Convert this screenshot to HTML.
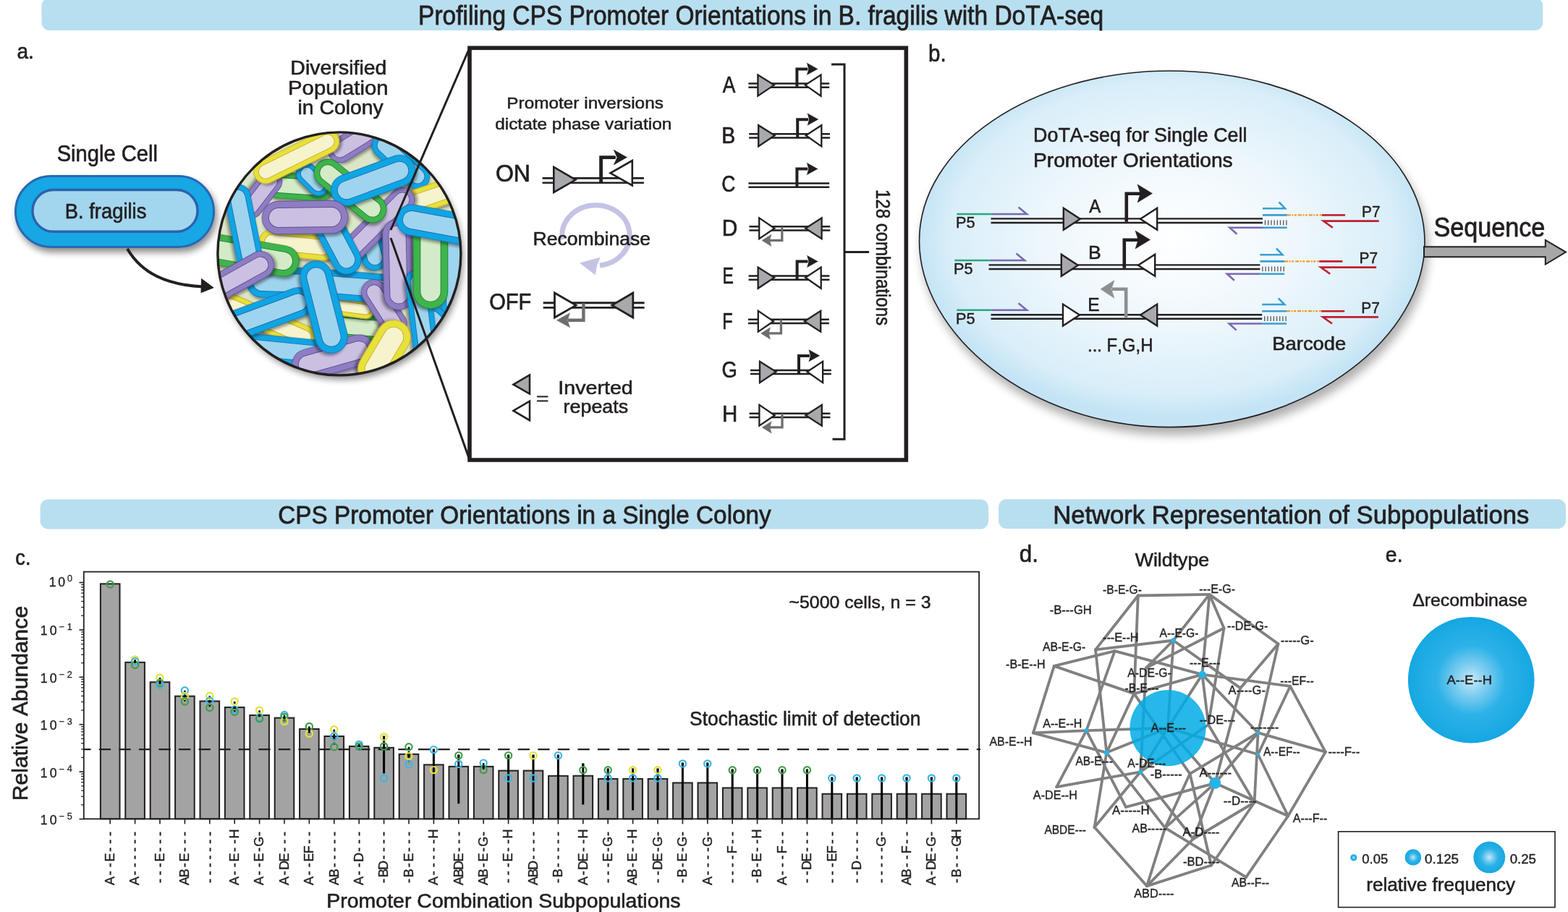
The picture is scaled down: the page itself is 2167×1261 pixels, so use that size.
<!DOCTYPE html>
<html><head><meta charset="utf-8"><title>Profiling CPS Promoter Orientations in B. fragilis with DoTA-seq</title>
<style>
html,body{margin:0;padding:0;background:#fff;}
body{width:2167px;height:1261px;overflow:hidden;}
svg{display:block;font-family:'Liberation Sans', Arial, sans-serif;}
text{fill:#231f20;stroke:#231f20;font-kerning:none;}
</style></head><body>
<svg width="2167" height="1261" viewBox="0 0 2167 1261">
<defs>
<filter id="shadow" x="-20%" y="-20%" width="150%" height="160%">
  <feGaussianBlur in="SourceAlpha" stdDeviation="5"/>
  <feOffset dx="3" dy="6" result="ob"/>
  <feComponentTransfer><feFuncA type="linear" slope="0.45"/></feComponentTransfer>
  <feMerge><feMergeNode/><feMergeNode in="SourceGraphic"/></feMerge>
</filter>
<filter id="shadowE" x="-10%" y="-10%" width="125%" height="130%">
  <feGaussianBlur in="SourceAlpha" stdDeviation="7"/>
  <feOffset dx="4" dy="10" result="ob"/>
  <feComponentTransfer><feFuncA type="linear" slope="0.32"/></feComponentTransfer>
  <feMerge><feMergeNode/><feMergeNode in="SourceGraphic"/></feMerge>
</filter>
<filter id="shadowS" x="-30%" y="-30%" width="170%" height="170%">
  <feGaussianBlur in="SourceAlpha" stdDeviation="2.2"/>
  <feOffset dx="1.5" dy="2.5" result="ob"/>
  <feComponentTransfer><feFuncA type="linear" slope="0.45"/></feComponentTransfer>
  <feMerge><feMergeNode/><feMergeNode in="SourceGraphic"/></feMerge>
</filter>
<radialGradient id="gEll" cx="0.5" cy="0.47" r="0.5">
  <stop offset="0" stop-color="#ffffff"/>
  <stop offset="0.5" stop-color="#eef7fc"/>
  <stop offset="0.88" stop-color="#d9eef9"/>
  <stop offset="1" stop-color="#c4e4f5"/>
</radialGradient>
<radialGradient id="gBall" cx="0.5" cy="0.5" r="0.5">
  <stop offset="0" stop-color="#c9eaf9"/>
  <stop offset="0.22" stop-color="#86d0f1"/>
  <stop offset="0.55" stop-color="#2db2e7"/>
  <stop offset="1" stop-color="#15a7e2"/>
</radialGradient>
<clipPath id="colClip"><circle cx="468.9" cy="350.9" r="167"/></clipPath>
</defs>
<rect x="57.5" y="-3" width="2074.8" height="44.9" rx="11" fill="#b8dff0"/>
<text x="578.05" y="33.7" font-size="36.34" stroke-width="0.8" textLength="947.09" lengthAdjust="spacingAndGlyphs">Profiling CPS Promoter Orientations in B. fragilis with DoTA-seq</text>
<rect x="55.6" y="690.6" width="1310.4" height="40.8" rx="11" fill="#b8dff0"/>
<rect x="1380" y="690.2" width="784" height="40.7" rx="11" fill="#b8dff0"/>
<text x="384.31" y="723.6" font-size="35.17" stroke-width="0.77" textLength="681.46" lengthAdjust="spacingAndGlyphs">CPS Promoter Orientations in a Single Colony</text>
<text x="1455.16" y="724" font-size="34.88" stroke-width="0.77" textLength="658.09" lengthAdjust="spacingAndGlyphs">Network Representation of Subpopulations</text>
<text x="23.51" y="81" font-size="29.55" stroke-width="0.65" textLength="23.35" lengthAdjust="spacingAndGlyphs">a.</text>
<text x="78.68" y="223.4" font-size="31.25" stroke-width="0.69" textLength="139.27" lengthAdjust="spacingAndGlyphs">Single Cell</text>
<g filter="url(#shadow)">
<rect x="21.5" y="243.5" width="274" height="98" rx="49" fill="#12a7e4" stroke="#2a68b2" stroke-width="3"/>
</g>
<rect x="45" y="262.5" width="228" height="57.8" rx="28.9" fill="#a2d6ee" stroke="#2b62ad" stroke-width="3.4"/>
<text x="89.75" y="301.8" font-size="29.07" stroke-width="0.64" textLength="112.64" lengthAdjust="spacingAndGlyphs">B. fragilis</text>
<path d="M176,344 C196,378 230,394 281,396.5" fill="none" stroke="#231f20" stroke-width="4"/>
<polygon points="278.5,385.5 295,397.8 278,404.5" fill="#231f20" stroke="#231f20" stroke-width="1" />
<text x="401.36" y="102.8" font-size="27.03" stroke-width="0.59" textLength="133.08" lengthAdjust="spacingAndGlyphs">Diversified</text>
<text x="398.1" y="130.8" font-size="27.03" stroke-width="0.59" textLength="138.4" lengthAdjust="spacingAndGlyphs">Population</text>
<text x="411.5" y="158.3" font-size="27.03" stroke-width="0.59" textLength="118.25" lengthAdjust="spacingAndGlyphs">in Colony</text>
<g filter="url(#shadow)"><circle cx="468.9" cy="350.9" r="168" fill="#e8eed8"/></g>
<g clip-path="url(#colClip)">
<rect x="300" y="182" width="340" height="340" fill="#dbe6c6"/>
<g transform="translate(395,391) rotate(1.74)"><g filter="url(#shadowS)"><rect x="-54.62" y="-21.6" width="109.23" height="43.2" rx="21.6" fill="#1b6fb3"/></g><rect x="-53.72" y="-20.7" width="107.43" height="41.4" rx="20.7" fill="#0fa5e3"/><rect x="-45.98" y="-12.96" width="91.95" height="25.92" rx="12.96" fill="#1b6fb3"/><rect x="-45.08" y="-12.06" width="90.15" height="24.12" rx="12.06" fill="#9fd4ee"/></g>
<g transform="translate(369.5,444) rotate(23.13)"><g filter="url(#shadowS)"><rect x="-72.2" y="-16.2" width="144.4" height="32.4" rx="16.2" fill="#d6a634"/></g><rect x="-71.3" y="-15.3" width="142.6" height="30.6" rx="15.3" fill="#e5e238"/><rect x="-65.72" y="-9.72" width="131.44" height="19.44" rx="9.72" fill="#d6a634"/><rect x="-64.82" y="-8.82" width="129.64" height="17.64" rx="8.82" fill="#f5f4cc"/></g>
<g transform="translate(393,485) rotate(5.71)"><g filter="url(#shadowS)"><rect x="-69.69" y="-19.44" width="139.38" height="38.88" rx="19.44" fill="#1b6fb3"/></g><rect x="-68.79" y="-18.54" width="137.58" height="37.08" rx="18.54" fill="#0fa5e3"/><rect x="-61.91" y="-11.66" width="123.83" height="23.33" rx="11.66" fill="#1b6fb3"/><rect x="-61.01" y="-10.76" width="122.03" height="21.53" rx="10.76" fill="#9fd4ee"/></g>
<g transform="translate(485,512.5) rotate(12.09)"><g filter="url(#shadowS)"><rect x="-54.15" y="-18.36" width="108.31" height="36.72" rx="18.36" fill="#5e4f9a"/></g><rect x="-53.25" y="-17.46" width="106.51" height="34.92" rx="17.46" fill="#8f7dc2"/><rect x="-46.81" y="-11.02" width="93.62" height="22.03" rx="11.02" fill="#5e4f9a"/><rect x="-45.91" y="-10.12" width="91.82" height="20.23" rx="10.12" fill="#cbc0e1"/></g>
<g transform="translate(499,452.5) rotate(4.93)"><g filter="url(#shadowS)"><rect x="-48.55" y="-19.44" width="97.1" height="38.88" rx="19.44" fill="#1f7d3a"/></g><rect x="-47.65" y="-18.54" width="95.3" height="37.08" rx="18.54" fill="#3fb44b"/><rect x="-40.77" y="-11.66" width="81.54" height="23.33" rx="11.66" fill="#1f7d3a"/><rect x="-39.87" y="-10.76" width="79.74" height="21.53" rx="10.76" fill="#d3ecc7"/></g>
<g transform="translate(486.5,425.5) rotate(7.7)"><g filter="url(#shadowS)"><rect x="-31.63" y="-12.96" width="63.26" height="25.92" rx="12.96" fill="#d6a634"/></g><rect x="-30.73" y="-12.06" width="61.46" height="24.12" rx="12.06" fill="#e5e238"/><rect x="-26.13" y="-7.46" width="52.26" height="14.92" rx="7.46" fill="#d6a634"/><rect x="-25.23" y="-6.56" width="50.46" height="13.12" rx="6.56" fill="#f5f4cc"/></g>
<g transform="translate(491,195) rotate(-31.76)"><g filter="url(#shadowS)"><rect x="-41.98" y="-17.28" width="83.96" height="34.56" rx="17.28" fill="#5e4f9a"/></g><rect x="-41.08" y="-16.38" width="82.16" height="32.76" rx="16.38" fill="#8f7dc2"/><rect x="-35.07" y="-10.37" width="70.13" height="20.74" rx="10.37" fill="#5e4f9a"/><rect x="-34.17" y="-9.47" width="68.33" height="18.94" rx="9.47" fill="#cbc0e1"/></g>
<g transform="translate(554,222.5) rotate(43.07)"><g filter="url(#shadowS)"><rect x="-48.76" y="-17.28" width="97.53" height="34.56" rx="17.28" fill="#1b6fb3"/></g><rect x="-47.86" y="-16.38" width="95.73" height="32.76" rx="16.38" fill="#0fa5e3"/><rect x="-41.85" y="-10.37" width="83.7" height="20.74" rx="10.37" fill="#1b6fb3"/><rect x="-40.95" y="-9.47" width="81.9" height="18.94" rx="9.47" fill="#9fd4ee"/></g>
<g transform="translate(598.5,271) rotate(-18.76)"><g filter="url(#shadowS)"><rect x="-45.27" y="-17.28" width="90.53" height="34.56" rx="17.28" fill="#d6a634"/></g><rect x="-44.37" y="-16.38" width="88.73" height="32.76" rx="16.38" fill="#e5e238"/><rect x="-38.35" y="-10.37" width="76.71" height="20.74" rx="10.37" fill="#d6a634"/><rect x="-37.45" y="-9.47" width="74.91" height="18.94" rx="9.47" fill="#f5f4cc"/></g>
<g transform="translate(413.5,258) rotate(4.01)"><g filter="url(#shadowS)"><rect x="-46.93" y="-18.36" width="93.86" height="36.72" rx="18.36" fill="#1f7d3a"/></g><rect x="-46.03" y="-17.46" width="92.06" height="34.92" rx="17.46" fill="#3fb44b"/><rect x="-39.59" y="-11.02" width="79.17" height="22.03" rx="11.02" fill="#1f7d3a"/><rect x="-38.69" y="-10.12" width="77.37" height="20.23" rx="10.12" fill="#d3ecc7"/></g>
<g transform="translate(411,338.5) rotate(5.71)"><g filter="url(#shadowS)"><rect x="-53.53" y="-18.36" width="107.07" height="36.72" rx="18.36" fill="#d6a634"/></g><rect x="-52.63" y="-17.46" width="105.27" height="34.92" rx="17.46" fill="#e5e238"/><rect x="-46.19" y="-11.02" width="92.38" height="22.03" rx="11.02" fill="#d6a634"/><rect x="-45.29" y="-10.12" width="90.58" height="20.23" rx="10.12" fill="#f5f4cc"/></g>
<g transform="translate(482.5,395.5) rotate(4.71)"><g filter="url(#shadowS)"><rect x="-63.16" y="-20.52" width="126.33" height="41.04" rx="20.52" fill="#1b6fb3"/></g><rect x="-62.26" y="-19.62" width="124.53" height="39.24" rx="19.62" fill="#0fa5e3"/><rect x="-54.96" y="-12.31" width="109.91" height="24.62" rx="12.31" fill="#1b6fb3"/><rect x="-54.06" y="-11.41" width="108.11" height="22.82" rx="11.41" fill="#9fd4ee"/></g>
<g transform="translate(515,345.5) rotate(74.05)"><g filter="url(#shadowS)"><rect x="-29.28" y="-18.36" width="58.56" height="36.72" rx="18.36" fill="#1b6fb3"/></g><rect x="-28.38" y="-17.46" width="56.76" height="34.92" rx="17.46" fill="#0fa5e3"/><rect x="-21.94" y="-11.02" width="43.87" height="22.03" rx="11.02" fill="#1b6fb3"/><rect x="-21.04" y="-10.12" width="42.07" height="20.23" rx="10.12" fill="#9fd4ee"/></g>
<g transform="translate(521.75,310.25) rotate(-45)"><g filter="url(#shadowS)"><rect x="-65.72" y="-17.28" width="131.43" height="34.56" rx="17.28" fill="#5e4f9a"/></g><rect x="-64.82" y="-16.38" width="129.63" height="32.76" rx="16.38" fill="#8f7dc2"/><rect x="-58.8" y="-10.37" width="117.61" height="20.74" rx="10.37" fill="#5e4f9a"/><rect x="-57.9" y="-9.47" width="115.81" height="18.94" rx="9.47" fill="#cbc0e1"/></g>
<g transform="translate(432,248) rotate(45)"><g filter="url(#shadowS)"><rect x="-26.43" y="-15.12" width="52.87" height="30.24" rx="15.12" fill="#1b6fb3"/></g><rect x="-25.53" y="-14.22" width="51.07" height="28.44" rx="14.22" fill="#0fa5e3"/><rect x="-20.39" y="-9.07" width="40.77" height="18.14" rx="9.07" fill="#1b6fb3"/><rect x="-19.49" y="-8.17" width="38.97" height="16.34" rx="8.17" fill="#9fd4ee"/></g>
<g transform="translate(484,264) rotate(38.88)"><g filter="url(#shadowS)"><rect x="-59.26" y="-19.44" width="118.53" height="38.88" rx="19.44" fill="#1f7d3a"/></g><rect x="-58.36" y="-18.54" width="116.73" height="37.08" rx="18.54" fill="#3fb44b"/><rect x="-51.49" y="-11.66" width="102.98" height="23.33" rx="11.66" fill="#1f7d3a"/><rect x="-50.59" y="-10.76" width="101.18" height="21.53" rx="10.76" fill="#d3ecc7"/></g>
<g transform="translate(360.5,268.5) rotate(127.65)"><g filter="url(#shadowS)"><rect x="-38.3" y="-16.2" width="76.6" height="32.4" rx="16.2" fill="#5e4f9a"/></g><rect x="-37.4" y="-15.3" width="74.8" height="30.6" rx="15.3" fill="#8f7dc2"/><rect x="-31.82" y="-9.72" width="63.64" height="19.44" rx="9.72" fill="#5e4f9a"/><rect x="-30.92" y="-8.82" width="61.84" height="17.64" rx="8.82" fill="#cbc0e1"/></g>
<g transform="translate(531,426) rotate(57.53)"><g filter="url(#shadowS)"><rect x="-43.9" y="-17.82" width="87.79" height="35.64" rx="17.82" fill="#5e4f9a"/></g><rect x="-43" y="-16.92" width="85.99" height="33.84" rx="16.92" fill="#8f7dc2"/><rect x="-36.77" y="-10.69" width="73.54" height="21.38" rx="10.69" fill="#5e4f9a"/><rect x="-35.87" y="-9.79" width="71.74" height="19.58" rx="9.79" fill="#cbc0e1"/></g>
<g transform="translate(346,353) rotate(9.87)"><g filter="url(#shadowS)"><rect x="-68.29" y="-21.6" width="136.58" height="43.2" rx="21.6" fill="#1f7d3a"/></g><rect x="-67.39" y="-20.7" width="134.78" height="41.4" rx="20.7" fill="#3fb44b"/><rect x="-59.65" y="-12.96" width="119.3" height="25.92" rx="12.96" fill="#1f7d3a"/><rect x="-58.75" y="-12.06" width="117.5" height="24.12" rx="12.06" fill="#d3ecc7"/></g>
<g transform="translate(337.75,319.2) rotate(78.73)"><g filter="url(#shadowS)"><rect x="-65.67" y="-18.36" width="131.35" height="36.72" rx="18.36" fill="#1b6fb3"/></g><rect x="-64.77" y="-17.46" width="129.55" height="34.92" rx="17.46" fill="#0fa5e3"/><rect x="-58.33" y="-11.02" width="116.66" height="22.03" rx="11.02" fill="#1b6fb3"/><rect x="-57.43" y="-10.12" width="114.86" height="20.23" rx="10.12" fill="#9fd4ee"/></g>
<g transform="translate(327.5,384) rotate(-28.98)"><g filter="url(#shadowS)"><rect x="-56.05" y="-18.9" width="112.1" height="37.8" rx="18.9" fill="#5e4f9a"/></g><rect x="-55.15" y="-18" width="110.3" height="36" rx="18" fill="#8f7dc2"/><rect x="-48.49" y="-11.34" width="96.98" height="22.68" rx="11.34" fill="#5e4f9a"/><rect x="-47.59" y="-10.44" width="95.18" height="20.88" rx="10.44" fill="#cbc0e1"/></g>
<g transform="translate(628,375) rotate(90)"><g filter="url(#shadowS)"><rect x="-64.44" y="-19.44" width="128.88" height="38.88" rx="19.44" fill="#1b6fb3"/></g><rect x="-63.54" y="-18.54" width="127.08" height="37.08" rx="18.54" fill="#0fa5e3"/><rect x="-56.66" y="-11.66" width="113.33" height="23.33" rx="11.66" fill="#1b6fb3"/><rect x="-55.76" y="-10.76" width="111.53" height="21.53" rx="10.76" fill="#9fd4ee"/></g>
<g transform="translate(608.5,451) rotate(43.73)"><g filter="url(#shadowS)"><rect x="-34.27" y="-18.36" width="68.55" height="36.72" rx="18.36" fill="#1b6fb3"/></g><rect x="-33.37" y="-17.46" width="66.75" height="34.92" rx="17.46" fill="#0fa5e3"/><rect x="-26.93" y="-11.02" width="53.86" height="22.03" rx="11.02" fill="#1b6fb3"/><rect x="-26.03" y="-10.12" width="52.06" height="20.23" rx="10.12" fill="#9fd4ee"/></g>
<g transform="translate(465.5,333.5) rotate(62.1)"><g filter="url(#shadowS)"><rect x="-49.37" y="-20.52" width="98.75" height="41.04" rx="20.52" fill="#1b6fb3"/></g><rect x="-48.47" y="-19.62" width="96.95" height="39.24" rx="19.62" fill="#0fa5e3"/><rect x="-41.17" y="-12.31" width="82.33" height="24.62" rx="12.31" fill="#1b6fb3"/><rect x="-40.27" y="-11.41" width="80.53" height="22.82" rx="11.41" fill="#9fd4ee"/></g>
<g transform="translate(550,366) rotate(88.64)"><g filter="url(#shadowS)"><rect x="-62.8" y="-20.79" width="125.6" height="41.58" rx="20.79" fill="#5e4f9a"/></g><rect x="-61.9" y="-19.89" width="123.8" height="39.78" rx="19.89" fill="#8f7dc2"/><rect x="-54.49" y="-12.47" width="108.97" height="24.95" rx="12.47" fill="#5e4f9a"/><rect x="-53.59" y="-11.57" width="107.17" height="23.15" rx="11.57" fill="#cbc0e1"/></g>
<g transform="translate(582.5,434) rotate(82.87)"><g filter="url(#shadowS)"><rect x="-61.62" y="-17.28" width="123.24" height="34.56" rx="17.28" fill="#1b6fb3"/></g><rect x="-60.72" y="-16.38" width="121.44" height="32.76" rx="16.38" fill="#0fa5e3"/><rect x="-54.71" y="-10.37" width="109.42" height="20.74" rx="10.37" fill="#1b6fb3"/><rect x="-53.81" y="-9.47" width="107.62" height="18.94" rx="9.47" fill="#9fd4ee"/></g>
<g transform="translate(595,366.5) rotate(90)"><g filter="url(#shadowS)"><rect x="-60.8" y="-24.3" width="121.6" height="48.6" rx="24.3" fill="#1f7d3a"/></g><rect x="-59.9" y="-23.4" width="119.8" height="46.8" rx="23.4" fill="#3fb44b"/><rect x="-51.08" y="-14.58" width="102.16" height="29.16" rx="14.58" fill="#1f7d3a"/><rect x="-50.18" y="-13.68" width="100.36" height="27.36" rx="13.68" fill="#d3ecc7"/></g>
<g transform="translate(460.5,494) rotate(-15.73)"><g filter="url(#shadowS)"><rect x="-58.48" y="-21.6" width="116.96" height="43.2" rx="21.6" fill="#5e4f9a"/></g><rect x="-57.58" y="-20.7" width="115.16" height="41.4" rx="20.7" fill="#8f7dc2"/><rect x="-49.84" y="-12.96" width="99.68" height="25.92" rx="12.96" fill="#5e4f9a"/><rect x="-48.94" y="-12.06" width="97.88" height="24.12" rx="12.06" fill="#cbc0e1"/></g>
<g transform="translate(531,488) rotate(120.58)"><g filter="url(#shadowS)"><rect x="-49.31" y="-23.76" width="98.63" height="47.52" rx="23.76" fill="#d6a634"/></g><rect x="-48.41" y="-22.86" width="96.83" height="45.72" rx="22.86" fill="#e5e238"/><rect x="-39.81" y="-14.26" width="79.62" height="28.51" rx="14.26" fill="#d6a634"/><rect x="-38.91" y="-13.36" width="77.82" height="26.71" rx="13.36" fill="#f5f4cc"/></g>
<g transform="translate(409.75,216.5) rotate(-26.16)"><g filter="url(#shadowS)"><rect x="-64.37" y="-16.74" width="128.74" height="33.48" rx="16.74" fill="#d6a634"/></g><rect x="-63.47" y="-15.84" width="126.94" height="31.68" rx="15.84" fill="#e5e238"/><rect x="-57.67" y="-10.04" width="115.35" height="20.09" rx="10.04" fill="#d6a634"/><rect x="-56.77" y="-9.14" width="113.55" height="18.29" rx="9.14" fill="#f5f4cc"/></g>
<g transform="translate(515.5,249.5) rotate(-20.3)"><g filter="url(#shadowS)"><rect x="-60.89" y="-21.98" width="121.79" height="43.96" rx="21.98" fill="#1b6fb3"/></g><rect x="-59.99" y="-21.08" width="119.99" height="42.16" rx="21.08" fill="#0fa5e3"/><rect x="-52.1" y="-13.19" width="104.21" height="26.37" rx="13.19" fill="#1b6fb3"/><rect x="-51.2" y="-12.29" width="102.41" height="24.57" rx="12.29" fill="#9fd4ee"/></g>
<g transform="translate(421.5,300.5) rotate(-0.78)"><g filter="url(#shadowS)"><rect x="-59.72" y="-23.22" width="119.45" height="46.44" rx="23.22" fill="#5e4f9a"/></g><rect x="-58.82" y="-22.32" width="117.65" height="44.64" rx="22.32" fill="#8f7dc2"/><rect x="-50.44" y="-13.93" width="100.87" height="27.86" rx="13.93" fill="#5e4f9a"/><rect x="-49.54" y="-13.03" width="99.07" height="26.06" rx="13.03" fill="#cbc0e1"/></g>
<g transform="translate(604.5,310.5) rotate(10.38)"><g filter="url(#shadowS)"><rect x="-57.69" y="-21.6" width="115.38" height="43.2" rx="21.6" fill="#1b6fb3"/></g><rect x="-56.79" y="-20.7" width="113.58" height="41.4" rx="20.7" fill="#0fa5e3"/><rect x="-49.05" y="-12.96" width="98.1" height="25.92" rx="12.96" fill="#1b6fb3"/><rect x="-48.15" y="-12.06" width="96.3" height="24.12" rx="12.06" fill="#9fd4ee"/></g>
<g transform="translate(362,436.5) rotate(-20.3)"><g filter="url(#shadowS)"><rect x="-74.1" y="-20.79" width="148.21" height="41.58" rx="20.79" fill="#1b6fb3"/></g><rect x="-73.2" y="-19.89" width="146.41" height="39.78" rx="19.89" fill="#0fa5e3"/><rect x="-65.79" y="-12.47" width="131.57" height="24.95" rx="12.47" fill="#1b6fb3"/><rect x="-64.89" y="-11.57" width="129.77" height="23.15" rx="11.57" fill="#9fd4ee"/></g>
<g transform="translate(447.5,424.5) rotate(75.8)"><g filter="url(#shadowS)"><rect x="-65.49" y="-22.68" width="130.98" height="45.36" rx="22.68" fill="#1b6fb3"/></g><rect x="-64.59" y="-21.78" width="129.18" height="43.56" rx="21.78" fill="#0fa5e3"/><rect x="-56.42" y="-13.61" width="112.83" height="27.22" rx="13.61" fill="#1b6fb3"/><rect x="-55.52" y="-12.71" width="111.03" height="25.42" rx="12.71" fill="#9fd4ee"/></g>
</g>
<circle cx="468.9" cy="350.9" r="168" fill="none" stroke="#231f20" stroke-width="3.4"/>
<line x1="540" y1="318" x2="649" y2="66" stroke="#231f20" stroke-width="3" />
<line x1="540" y1="329" x2="649" y2="636" stroke="#231f20" stroke-width="3" />
<rect x="649" y="66.3" width="603.3" height="569.7" fill="#fff" stroke="#231f20" stroke-width="5.6"/>
<text x="700.3" y="150.2" font-size="22.97" stroke-width="0.51" textLength="216.58" lengthAdjust="spacingAndGlyphs">Promoter inversions</text>
<text x="684.18" y="178.7" font-size="22.97" stroke-width="0.51" textLength="244.11" lengthAdjust="spacingAndGlyphs">dictate phase variation</text>
<text x="684.88" y="251.3" font-size="32.85" stroke-width="0.72" textLength="48.14" lengthAdjust="spacingAndGlyphs">ON</text>
<text x="676.22" y="427.6" font-size="31.54" stroke-width="0.69" textLength="58.14" lengthAdjust="spacingAndGlyphs">OFF</text>
<line x1="749.6" y1="246.4" x2="889.9" y2="246.4" stroke="#231f20" stroke-width="2.6" />
<line x1="749.6" y1="252.8" x2="889.9" y2="252.8" stroke="#231f20" stroke-width="2.6" />
<polygon points="765.3,231 765.3,266 795.5,248.6" fill="#a7a9ac" stroke="#231f20" stroke-width="2.6" />
<polygon points="873.8,222 873.8,256.5 843.5,239.3" fill="#fff" stroke="#231f20" stroke-width="2.6" />
<polyline points="830.6,252.2 830.6,217.7 852,217.7" fill="none" stroke="#231f20" stroke-width="4.8" stroke-linejoin="miter"/>
<polygon points="846.3,205.3 868.1,217.5 846.3,230.1 852,217.7" fill="#231f20" stroke="#fff" stroke-width="1.2" />
<path d="M777.2,331 A46.7,41.8 0 1 1 829,367" fill="none" stroke="#c4c3e6" stroke-width="7"/>
<polygon points="801.9,363.8 829,356.4 824.6,366.5 822.4,379.5" fill="#c4c3e6" stroke="#c4c3e6" stroke-width="1" />
<text x="736.52" y="338.6" font-size="26.6" stroke-width="0.59" textLength="162.66" lengthAdjust="spacingAndGlyphs">Recombinase</text>
<line x1="750.7" y1="418.75" x2="890.6" y2="418.75" stroke="#231f20" stroke-width="2.8" />
<line x1="750.7" y1="425.45" x2="890.6" y2="425.45" stroke="#231f20" stroke-width="2.8" />
<polygon points="766.5,405 766.5,439 796,422.1" fill="#fff" stroke="#231f20" stroke-width="2.8" />
<polygon points="874.8,405 874.8,439 845.8,422.1" fill="#a7a9ac" stroke="#231f20" stroke-width="2.8" />
<polyline points="806.4,419.2 806.4,442.8 785,442.8" fill="none" stroke="#6d6e71" stroke-width="4.4" />
<polygon points="769.5,442.8 787.6,432.8 784.3,442.8 787.6,452.8" fill="#6d6e71" stroke="#6d6e71" stroke-width="0.5" />
<polygon points="709.5,531.7 732,518.5 732,544.5" fill="#a7a9ac" stroke="#231f20" stroke-width="2.5" />
<polygon points="709.5,567.9 732,554.6 732,581.2" fill="#fff" stroke="#231f20" stroke-width="2.5" />
<line x1="742" y1="548.4" x2="757.4" y2="548.4" stroke="#231f20" stroke-width="2" />
<line x1="742" y1="554.4" x2="757.4" y2="554.4" stroke="#231f20" stroke-width="2" />
<text x="771.36" y="544.8" font-size="25.29" stroke-width="0.56" textLength="103.38" lengthAdjust="spacingAndGlyphs">Inverted</text>
<text x="778.62" y="570.6" font-size="25.29" stroke-width="0.56" textLength="89.55" lengthAdjust="spacingAndGlyphs">repeats</text>
<text x="998.65" y="128.4" font-size="31.1" stroke-width="0.68" textLength="17.6" lengthAdjust="spacingAndGlyphs">A</text>
<line x1="1034.4" y1="115.5" x2="1146.2" y2="115.5" stroke="#231f20" stroke-width="2.5" />
<line x1="1034.4" y1="120.7" x2="1146.2" y2="120.7" stroke="#231f20" stroke-width="2.5" />
<polygon points="1047.4,103.5 1047.4,132.7 1069.9,117.6" fill="#a7a9ac" stroke="#231f20" stroke-width="2.3" />
<polygon points="1134.5,103.5 1134.5,132.7 1112.9,117.6" fill="#fff" stroke="#231f20" stroke-width="2.3" />
<polyline points="1101.4,120.5 1101.4,95.5 1117.4,95.5" fill="none" stroke="#231f20" stroke-width="4" />
<polygon points="1114.4,86.1 1131.1,95.4 1114.4,104.6 1116.9,95.4" fill="#231f20" stroke="#fff" stroke-width="0.8" />
<text x="997.17" y="198.1" font-size="31.1" stroke-width="0.68" textLength="18.92" lengthAdjust="spacingAndGlyphs">B</text>
<line x1="1035.2" y1="185.2" x2="1147" y2="185.2" stroke="#231f20" stroke-width="2.5" />
<line x1="1035.2" y1="190.4" x2="1147" y2="190.4" stroke="#231f20" stroke-width="2.5" />
<polygon points="1048.2,173.2 1048.2,202.4 1070.7,187.3" fill="#a7a9ac" stroke="#231f20" stroke-width="2.3" />
<polygon points="1135.3,173.2 1135.3,202.4 1113.7,187.3" fill="#fff" stroke="#231f20" stroke-width="2.3" />
<polyline points="1102.2,190.2 1102.2,165.2 1118.2,165.2" fill="none" stroke="#231f20" stroke-width="4" />
<polygon points="1115.2,155.8 1131.9,165.1 1115.2,174.3 1117.7,165.1" fill="#231f20" stroke="#fff" stroke-width="0.8" />
<text x="997.36" y="264.7" font-size="31.1" stroke-width="0.68" textLength="19.04" lengthAdjust="spacingAndGlyphs">C</text>
<line x1="1034.4" y1="253.6" x2="1146.2" y2="253.6" stroke="#231f20" stroke-width="2.5" />
<line x1="1034.4" y1="258.8" x2="1146.2" y2="258.8" stroke="#231f20" stroke-width="2.5" />
<polyline points="1101.4,258.6 1101.4,233.6 1117.4,233.6" fill="none" stroke="#231f20" stroke-width="4" />
<polygon points="1114.4,224.2 1131.1,233.5 1114.4,242.7 1116.9,233.5" fill="#231f20" stroke="#fff" stroke-width="0.8" />
<text x="997.85" y="325.8" font-size="31.1" stroke-width="0.68" textLength="21.58" lengthAdjust="spacingAndGlyphs">D</text>
<line x1="1035.4" y1="313.2" x2="1147.2" y2="313.2" stroke="#231f20" stroke-width="2.5" />
<line x1="1035.4" y1="318.4" x2="1147.2" y2="318.4" stroke="#231f20" stroke-width="2.5" />
<polygon points="1049.2,301.4 1049.2,330.2 1070.4,315.8" fill="#fff" stroke="#231f20" stroke-width="2.3" />
<polygon points="1135.6,301.4 1135.6,330.2 1113.2,315.8" fill="#a7a9ac" stroke="#231f20" stroke-width="2.3" />
<polyline points="1080.8,313.4 1080.8,332.3 1063.4,332.3" fill="none" stroke="#6d6e71" stroke-width="3.3" />
<polygon points="1053,332.4 1066,324.2 1063.7,332.4 1066,340.6" fill="#6d6e71" stroke="#6d6e71" stroke-width="0.5" />
<text x="998.41" y="392" font-size="31.1" stroke-width="0.68" textLength="15.38" lengthAdjust="spacingAndGlyphs">E</text>
<line x1="1034.6" y1="381.6" x2="1146.4" y2="381.6" stroke="#231f20" stroke-width="2.5" />
<line x1="1034.6" y1="386.8" x2="1146.4" y2="386.8" stroke="#231f20" stroke-width="2.5" />
<polygon points="1047.6,369.6 1047.6,398.8 1070.1,383.7" fill="#a7a9ac" stroke="#231f20" stroke-width="2.3" />
<polygon points="1134.7,369.6 1134.7,398.8 1113.1,383.7" fill="#fff" stroke="#231f20" stroke-width="2.3" />
<polyline points="1101.6,386.6 1101.6,361.6 1117.6,361.6" fill="none" stroke="#231f20" stroke-width="4" />
<polygon points="1114.6,352.2 1131.3,361.5 1114.6,370.7 1117.1,361.5" fill="#231f20" stroke="#fff" stroke-width="0.8" />
<text x="998.37" y="455.1" font-size="31.1" stroke-width="0.68" textLength="14.37" lengthAdjust="spacingAndGlyphs">F</text>
<line x1="1034" y1="441.7" x2="1145.8" y2="441.7" stroke="#231f20" stroke-width="2.5" />
<line x1="1034" y1="446.9" x2="1145.8" y2="446.9" stroke="#231f20" stroke-width="2.5" />
<polygon points="1047.8,429.9 1047.8,458.7 1069,444.3" fill="#fff" stroke="#231f20" stroke-width="2.3" />
<polygon points="1134.2,429.9 1134.2,458.7 1111.8,444.3" fill="#a7a9ac" stroke="#231f20" stroke-width="2.3" />
<polyline points="1079.4,441.9 1079.4,460.8 1062,460.8" fill="none" stroke="#6d6e71" stroke-width="3.3" />
<polygon points="1051.6,460.9 1064.6,452.7 1062.3,460.9 1064.6,469.1" fill="#6d6e71" stroke="#6d6e71" stroke-width="0.5" />
<text x="997.52" y="521.5" font-size="31.1" stroke-width="0.68" textLength="21.33" lengthAdjust="spacingAndGlyphs">G</text>
<line x1="1037" y1="511.9" x2="1148.8" y2="511.9" stroke="#231f20" stroke-width="2.5" />
<line x1="1037" y1="517.1" x2="1148.8" y2="517.1" stroke="#231f20" stroke-width="2.5" />
<polygon points="1050,499.9 1050,529.1 1072.5,514" fill="#a7a9ac" stroke="#231f20" stroke-width="2.3" />
<polygon points="1137.1,499.9 1137.1,529.1 1115.5,514" fill="#fff" stroke="#231f20" stroke-width="2.3" />
<polyline points="1104,516.9 1104,491.9 1120,491.9" fill="none" stroke="#231f20" stroke-width="4" />
<polygon points="1117,482.5 1133.7,491.8 1117,501 1119.5,491.8" fill="#231f20" stroke="#fff" stroke-width="0.8" />
<text x="997.88" y="583" font-size="31.1" stroke-width="0.68" textLength="21.33" lengthAdjust="spacingAndGlyphs">H</text>
<line x1="1035.6" y1="571.7" x2="1147.4" y2="571.7" stroke="#231f20" stroke-width="2.5" />
<line x1="1035.6" y1="576.9" x2="1147.4" y2="576.9" stroke="#231f20" stroke-width="2.5" />
<polygon points="1049.4,559.9 1049.4,588.7 1070.6,574.3" fill="#fff" stroke="#231f20" stroke-width="2.3" />
<polygon points="1135.8,559.9 1135.8,588.7 1113.4,574.3" fill="#a7a9ac" stroke="#231f20" stroke-width="2.3" />
<polyline points="1081,571.9 1081,590.8 1063.6,590.8" fill="none" stroke="#6d6e71" stroke-width="3.3" />
<polygon points="1053.2,590.9 1066.2,582.7 1063.9,590.9 1066.2,599.1" fill="#6d6e71" stroke="#6d6e71" stroke-width="0.5" />
<polyline points="1149,88.9 1167,88.9 1167,607.2 1150.5,607.2" fill="none" stroke="#231f20" stroke-width="3" />
<line x1="1167" y1="348.5" x2="1201" y2="348.5" stroke="#231f20" stroke-width="3" />
<text transform="translate(1211,262) rotate(90)" stroke-width="0.6" font-size="27.62" textLength="188" lengthAdjust="spacingAndGlyphs">128 combinations</text>
<text x="1283.1" y="84.6" font-size="32.43" stroke-width="0.71" textLength="24.59" lengthAdjust="spacingAndGlyphs">b.</text>
<g filter="url(#shadowE)"><path d="M1270.5,333 C1270.5,203.21 1425.63,98 1617,98 C1811.41,98 1969,204.1 1969,335 C1969,462.8 1814.12,590.6 1617,590.6 C1422.96,590.6 1270.5,461.8 1270.5,333 Z" fill="url(#gEll)" stroke="#231f20" stroke-width="1.6"/></g>
<text x="1428.1" y="196.2" font-size="28.34" stroke-width="0.62" textLength="295.3" lengthAdjust="spacingAndGlyphs">DoTA-seq for Single Cell</text>
<text x="1427.99" y="230.7" font-size="28.34" stroke-width="0.62" textLength="275.73" lengthAdjust="spacingAndGlyphs">Promoter Orientations</text>
<line x1="1322.3" y1="296" x2="1370.5" y2="296" stroke="#2aa77a" stroke-width="2.6" />
<polyline points="1370.5,296 1419,296 1407.5,286.5" fill="none" stroke="#7a69b1" stroke-width="2.6" />
<text x="1321.12" y="315.4" font-size="21.8" stroke-width="0.48" textLength="26.49" lengthAdjust="spacingAndGlyphs">P5</text>
<line x1="1369.5" y1="302.4" x2="1745" y2="302.4" stroke="#231f20" stroke-width="2.4" />
<line x1="1369.5" y1="308" x2="1745" y2="308" stroke="#231f20" stroke-width="2.4" />
<polygon points="1469.8,287.8 1469.8,317.8 1492.8,302.8" fill="#a7a9ac" stroke="#231f20" stroke-width="2.4" />
<polygon points="1599.2,287.8 1599.2,317.8 1576,302.8" fill="#fff" stroke="#231f20" stroke-width="2.4" />
<polyline points="1556.8,306.7 1556.8,267.8 1576,267.8" fill="none" stroke="#231f20" stroke-width="4.6" />
<polygon points="1572,255 1592.5,267.5 1572,280 1576,267.5" fill="#231f20" stroke="#231f20" stroke-width="0.5" />
<text x="1505.15" y="294" font-size="25" stroke-width="0.55" textLength="15.99" lengthAdjust="spacingAndGlyphs">A</text>
<polyline points="1745,288.2 1776,288.2 1767.5,279.5" fill="none" stroke="#3b9fd3" stroke-width="2.6" />
<line x1="1745" y1="297.4" x2="1778.8" y2="297.4" stroke="#3b9fd3" stroke-width="2.6" />
<line x1="1778.8" y1="297.4" x2="1827" y2="297.4" stroke="#f39a25" stroke-width="2.2" stroke-dasharray="5 1.5 2 1.5 3 2"/>
<line x1="1827" y1="297.4" x2="1859" y2="297.4" stroke="#bf1e2e" stroke-width="2.6" />
<line x1="1748.5" y1="304.5" x2="1748.5" y2="311.2" stroke="#555" stroke-width="1.3" />
<line x1="1752.7" y1="304.5" x2="1752.7" y2="311.2" stroke="#555" stroke-width="1.3" />
<line x1="1756.9" y1="304.5" x2="1756.9" y2="311.2" stroke="#555" stroke-width="1.3" />
<line x1="1761.1" y1="304.5" x2="1761.1" y2="311.2" stroke="#555" stroke-width="1.3" />
<line x1="1765.3" y1="304.5" x2="1765.3" y2="311.2" stroke="#555" stroke-width="1.3" />
<line x1="1769.5" y1="304.5" x2="1769.5" y2="311.2" stroke="#555" stroke-width="1.3" />
<line x1="1773.7" y1="304.5" x2="1773.7" y2="311.2" stroke="#555" stroke-width="1.3" />
<line x1="1777.9" y1="304.5" x2="1777.9" y2="311.2" stroke="#555" stroke-width="1.3" />
<line x1="1745" y1="314.7" x2="1778.8" y2="314.7" stroke="#3b9fd3" stroke-width="2.6" />
<polyline points="1709.5,323.8 1699.5,314.7 1745,314.7" fill="none" stroke="#7a69b1" stroke-width="2.6" />
<polyline points="1841.8,314.7 1829,305.6 1905.7,305.6" fill="none" stroke="#bf1e2e" stroke-width="2.6" />
<text x="1882.09" y="300.1" font-size="21.22" stroke-width="0.47" textLength="25.57" lengthAdjust="spacingAndGlyphs">P7</text>
<line x1="1319.3" y1="360" x2="1367.5" y2="360" stroke="#2aa77a" stroke-width="2.6" />
<polyline points="1367.5,360 1416,360 1404.5,350.5" fill="none" stroke="#7a69b1" stroke-width="2.6" />
<text x="1318.12" y="379" font-size="21.8" stroke-width="0.48" textLength="26.49" lengthAdjust="spacingAndGlyphs">P5</text>
<line x1="1366.5" y1="366.4" x2="1741.4" y2="366.4" stroke="#231f20" stroke-width="2.4" />
<line x1="1366.5" y1="372" x2="1741.4" y2="372" stroke="#231f20" stroke-width="2.4" />
<polygon points="1466.8,351.8 1466.8,381.8 1489.8,366.8" fill="#a7a9ac" stroke="#231f20" stroke-width="2.4" />
<polygon points="1596.2,351.8 1596.2,381.8 1573,366.8" fill="#fff" stroke="#231f20" stroke-width="2.4" />
<polyline points="1553.8,370.7 1553.8,331.8 1573,331.8" fill="none" stroke="#231f20" stroke-width="4.6" />
<polygon points="1569,319 1589.5,331.5 1569,344 1573,331.5" fill="#231f20" stroke="#231f20" stroke-width="0.5" />
<text x="1504.01" y="358.4" font-size="25" stroke-width="0.55" textLength="17.8" lengthAdjust="spacingAndGlyphs">B</text>
<polyline points="1741.4,352.2 1772.4,352.2 1763.9,343.5" fill="none" stroke="#3b9fd3" stroke-width="2.6" />
<line x1="1741.4" y1="361.4" x2="1775.2" y2="361.4" stroke="#3b9fd3" stroke-width="2.6" />
<line x1="1775.2" y1="361.4" x2="1823.4" y2="361.4" stroke="#f39a25" stroke-width="2.2" stroke-dasharray="5 1.5 2 1.5 3 2"/>
<line x1="1823.4" y1="361.4" x2="1855.4" y2="361.4" stroke="#bf1e2e" stroke-width="2.6" />
<line x1="1744.9" y1="368.5" x2="1744.9" y2="375.2" stroke="#555" stroke-width="1.3" />
<line x1="1749.1" y1="368.5" x2="1749.1" y2="375.2" stroke="#555" stroke-width="1.3" />
<line x1="1753.3" y1="368.5" x2="1753.3" y2="375.2" stroke="#555" stroke-width="1.3" />
<line x1="1757.5" y1="368.5" x2="1757.5" y2="375.2" stroke="#555" stroke-width="1.3" />
<line x1="1761.7" y1="368.5" x2="1761.7" y2="375.2" stroke="#555" stroke-width="1.3" />
<line x1="1765.9" y1="368.5" x2="1765.9" y2="375.2" stroke="#555" stroke-width="1.3" />
<line x1="1770.1" y1="368.5" x2="1770.1" y2="375.2" stroke="#555" stroke-width="1.3" />
<line x1="1774.3" y1="368.5" x2="1774.3" y2="375.2" stroke="#555" stroke-width="1.3" />
<line x1="1741.4" y1="378.7" x2="1775.2" y2="378.7" stroke="#3b9fd3" stroke-width="2.6" />
<polyline points="1705.9,387.8 1695.9,378.7 1741.4,378.7" fill="none" stroke="#7a69b1" stroke-width="2.6" />
<polyline points="1838.2,378.7 1825.4,369.6 1902.1,369.6" fill="none" stroke="#bf1e2e" stroke-width="2.6" />
<text x="1878.49" y="364.1" font-size="21.22" stroke-width="0.47" textLength="25.57" lengthAdjust="spacingAndGlyphs">P7</text>
<line x1="1322.3" y1="428.8" x2="1370.5" y2="428.8" stroke="#2aa77a" stroke-width="2.6" />
<polyline points="1370.5,428.8 1419,428.8 1407.5,419.3" fill="none" stroke="#7a69b1" stroke-width="2.6" />
<text x="1321.12" y="448.2" font-size="21.8" stroke-width="0.48" textLength="26.49" lengthAdjust="spacingAndGlyphs">P5</text>
<line x1="1369.5" y1="435.2" x2="1744.2" y2="435.2" stroke="#231f20" stroke-width="2.4" />
<line x1="1369.5" y1="440.8" x2="1744.2" y2="440.8" stroke="#231f20" stroke-width="2.4" />
<polygon points="1469,420.6 1469,450.6 1492,435.6" fill="#fff" stroke="#231f20" stroke-width="2.4" />
<polygon points="1599.2,420.6 1599.2,450.6 1576,435.6" fill="#a7a9ac" stroke="#231f20" stroke-width="2.4" />
<polyline points="1556.2,439 1556.2,399.8 1537,399.8" fill="none" stroke="#8e8f91" stroke-width="4.6" />
<polygon points="1521,399.8 1540,387.6 1536,399.8 1540,412.3" fill="#8e8f91" stroke="#8e8f91" stroke-width="0.5" />
<text x="1503.19" y="430.4" font-size="25" stroke-width="0.55" textLength="16.37" lengthAdjust="spacingAndGlyphs">E</text>
<polyline points="1744.2,421 1775.2,421 1766.7,412.3" fill="none" stroke="#3b9fd3" stroke-width="2.6" />
<line x1="1744.2" y1="430.2" x2="1778" y2="430.2" stroke="#3b9fd3" stroke-width="2.6" />
<line x1="1778" y1="430.2" x2="1826.2" y2="430.2" stroke="#f39a25" stroke-width="2.2" stroke-dasharray="5 1.5 2 1.5 3 2"/>
<line x1="1826.2" y1="430.2" x2="1858.2" y2="430.2" stroke="#bf1e2e" stroke-width="2.6" />
<line x1="1747.7" y1="437.3" x2="1747.7" y2="444" stroke="#555" stroke-width="1.3" />
<line x1="1751.9" y1="437.3" x2="1751.9" y2="444" stroke="#555" stroke-width="1.3" />
<line x1="1756.1" y1="437.3" x2="1756.1" y2="444" stroke="#555" stroke-width="1.3" />
<line x1="1760.3" y1="437.3" x2="1760.3" y2="444" stroke="#555" stroke-width="1.3" />
<line x1="1764.5" y1="437.3" x2="1764.5" y2="444" stroke="#555" stroke-width="1.3" />
<line x1="1768.7" y1="437.3" x2="1768.7" y2="444" stroke="#555" stroke-width="1.3" />
<line x1="1772.9" y1="437.3" x2="1772.9" y2="444" stroke="#555" stroke-width="1.3" />
<line x1="1777.1" y1="437.3" x2="1777.1" y2="444" stroke="#555" stroke-width="1.3" />
<line x1="1744.2" y1="447.5" x2="1778" y2="447.5" stroke="#3b9fd3" stroke-width="2.6" />
<polyline points="1708.7,456.6 1698.7,447.5 1744.2,447.5" fill="none" stroke="#7a69b1" stroke-width="2.6" />
<polyline points="1841,447.5 1828.2,438.4 1904.9,438.4" fill="none" stroke="#bf1e2e" stroke-width="2.6" />
<text x="1881.29" y="432.9" font-size="21.22" stroke-width="0.47" textLength="25.57" lengthAdjust="spacingAndGlyphs">P7</text>
<text x="1503.01" y="485.9" font-size="25.87" stroke-width="0.57" textLength="90.44" lengthAdjust="spacingAndGlyphs">... F,G,H</text>
<text x="1758.36" y="483.5" font-size="25.15" stroke-width="0.55" textLength="101.86" lengthAdjust="spacingAndGlyphs">Barcode</text>
<polygon points="1968,341.2 2135.8,341.2 2135.8,332 2164,348.6 2135.8,365.5 2135.8,355.2 1968,355.2" fill="#a7a7a7" stroke="#231f20" stroke-width="2" />
<text x="1981.45" y="326.6" font-size="36.34" stroke-width="0.8" textLength="153.87" lengthAdjust="spacingAndGlyphs">Sequence</text>
<text x="21.35" y="780.8" font-size="29.55" stroke-width="0.65" textLength="21.14" lengthAdjust="spacingAndGlyphs">c.</text>
<rect x="138.9" y="807.3" width="26.6" height="325" fill="#a3a3a3" stroke="#231f20" stroke-width="2"/>
<rect x="173.3" y="915.8" width="26.6" height="216.5" fill="#a3a3a3" stroke="#231f20" stroke-width="2"/>
<rect x="207.7" y="943.2" width="26.6" height="189.1" fill="#a3a3a3" stroke="#231f20" stroke-width="2"/>
<rect x="242.1" y="962.6" width="26.6" height="169.7" fill="#a3a3a3" stroke="#231f20" stroke-width="2"/>
<rect x="276.5" y="969.5" width="26.6" height="162.8" fill="#a3a3a3" stroke="#231f20" stroke-width="2"/>
<rect x="310.9" y="978" width="26.6" height="154.3" fill="#a3a3a3" stroke="#231f20" stroke-width="2"/>
<rect x="345.3" y="988.9" width="26.6" height="143.4" fill="#a3a3a3" stroke="#231f20" stroke-width="2"/>
<rect x="379.7" y="992.6" width="26.6" height="139.7" fill="#a3a3a3" stroke="#231f20" stroke-width="2"/>
<rect x="414.1" y="1008" width="26.6" height="124.3" fill="#a3a3a3" stroke="#231f20" stroke-width="2"/>
<rect x="448.5" y="1018" width="26.6" height="114.3" fill="#a3a3a3" stroke="#231f20" stroke-width="2"/>
<rect x="482.9" y="1031.9" width="26.6" height="100.4" fill="#a3a3a3" stroke="#231f20" stroke-width="2"/>
<rect x="517.3" y="1033.8" width="26.6" height="98.5" fill="#a3a3a3" stroke="#231f20" stroke-width="2"/>
<rect x="551.7" y="1042.8" width="26.6" height="89.5" fill="#a3a3a3" stroke="#231f20" stroke-width="2"/>
<rect x="586.1" y="1057.4" width="26.6" height="74.9" fill="#a3a3a3" stroke="#231f20" stroke-width="2"/>
<rect x="620.5" y="1059.9" width="26.6" height="72.4" fill="#a3a3a3" stroke="#231f20" stroke-width="2"/>
<rect x="654.9" y="1059.9" width="26.6" height="72.4" fill="#a3a3a3" stroke="#231f20" stroke-width="2"/>
<rect x="689.3" y="1065.6" width="26.6" height="66.7" fill="#a3a3a3" stroke="#231f20" stroke-width="2"/>
<rect x="723.7" y="1065.6" width="26.6" height="66.7" fill="#a3a3a3" stroke="#231f20" stroke-width="2"/>
<rect x="758.1" y="1072.8" width="26.6" height="59.5" fill="#a3a3a3" stroke="#231f20" stroke-width="2"/>
<rect x="792.5" y="1072.7" width="26.6" height="59.6" fill="#a3a3a3" stroke="#231f20" stroke-width="2"/>
<rect x="826.9" y="1076.9" width="26.6" height="55.4" fill="#a3a3a3" stroke="#231f20" stroke-width="2"/>
<rect x="861.3" y="1076.9" width="26.6" height="55.4" fill="#a3a3a3" stroke="#231f20" stroke-width="2"/>
<rect x="895.7" y="1076.9" width="26.6" height="55.4" fill="#a3a3a3" stroke="#231f20" stroke-width="2"/>
<rect x="930.1" y="1082.4" width="26.6" height="49.9" fill="#a3a3a3" stroke="#231f20" stroke-width="2"/>
<rect x="964.5" y="1082.4" width="26.6" height="49.9" fill="#a3a3a3" stroke="#231f20" stroke-width="2"/>
<rect x="998.9" y="1089.4" width="26.6" height="42.9" fill="#a3a3a3" stroke="#231f20" stroke-width="2"/>
<rect x="1033.3" y="1089.4" width="26.6" height="42.9" fill="#a3a3a3" stroke="#231f20" stroke-width="2"/>
<rect x="1067.7" y="1089.4" width="26.6" height="42.9" fill="#a3a3a3" stroke="#231f20" stroke-width="2"/>
<rect x="1102.1" y="1089.4" width="26.6" height="42.9" fill="#a3a3a3" stroke="#231f20" stroke-width="2"/>
<rect x="1136.5" y="1097.7" width="26.6" height="34.6" fill="#a3a3a3" stroke="#231f20" stroke-width="2"/>
<rect x="1170.9" y="1097.7" width="26.6" height="34.6" fill="#a3a3a3" stroke="#231f20" stroke-width="2"/>
<rect x="1205.3" y="1097.7" width="26.6" height="34.6" fill="#a3a3a3" stroke="#231f20" stroke-width="2"/>
<rect x="1239.7" y="1097.7" width="26.6" height="34.6" fill="#a3a3a3" stroke="#231f20" stroke-width="2"/>
<rect x="1274.1" y="1097.7" width="26.6" height="34.6" fill="#a3a3a3" stroke="#231f20" stroke-width="2"/>
<rect x="1308.5" y="1097.7" width="26.6" height="34.6" fill="#a3a3a3" stroke="#231f20" stroke-width="2"/>
<line x1="115.8" y1="1036.2" x2="1355" y2="1036.2" stroke="#231f20" stroke-width="2.2" stroke-dasharray="16.3 11.27" stroke-dashoffset="6.6"/>
<line x1="186.6" y1="911.9" x2="186.6" y2="919.5" stroke="#000" stroke-width="2.6" stroke-dasharray="3 3"/>
<line x1="221" y1="937" x2="221" y2="947" stroke="#000" stroke-width="2.6" stroke-dasharray="3 3"/>
<line x1="255.4" y1="954.8" x2="255.4" y2="969.9" stroke="#000" stroke-width="2.6" stroke-dasharray="3 3"/>
<line x1="289.8" y1="962.2" x2="289.8" y2="978.5" stroke="#000" stroke-width="2.6" stroke-dasharray="3 3"/>
<line x1="324.2" y1="969.9" x2="324.2" y2="984.2" stroke="#000" stroke-width="2.6" stroke-dasharray="3 3"/>
<line x1="358.6" y1="982.2" x2="358.6" y2="993.6" stroke="#000" stroke-width="2.6" stroke-dasharray="3 3"/>
<line x1="393" y1="988.5" x2="393" y2="997.6" stroke="#000" stroke-width="2.6" stroke-dasharray="3 3"/>
<line x1="427.4" y1="1004.5" x2="427.4" y2="1014.4" stroke="#000" stroke-width="2.6" stroke-dasharray="3 3"/>
<line x1="461.8" y1="1008.8" x2="461.8" y2="1032.8" stroke="#000" stroke-width="2.6" stroke-dasharray="3 3"/>
<line x1="496.2" y1="1029.4" x2="496.2" y2="1032.3" stroke="#000" stroke-width="2.6" stroke-dasharray="3 3"/>
<line x1="530.6" y1="1019" x2="530.6" y2="1069.4" stroke="#000" stroke-width="3" />
<line x1="565" y1="1032.8" x2="565" y2="1057" stroke="#000" stroke-width="2.6" stroke-dasharray="3 3"/>
<line x1="599.4" y1="1037" x2="599.4" y2="1132.3" stroke="#000" stroke-width="3" />
<line x1="633.8" y1="1045" x2="633.8" y2="1111.2" stroke="#000" stroke-width="3" />
<line x1="668.2" y1="1055.1" x2="668.2" y2="1064.6" stroke="#000" stroke-width="2.6" stroke-dasharray="3 3"/>
<line x1="702.6" y1="1045" x2="702.6" y2="1132.3" stroke="#000" stroke-width="3" />
<line x1="737" y1="1045" x2="737" y2="1132.3" stroke="#000" stroke-width="3" />
<line x1="771.4" y1="1045" x2="771.4" y2="1132.3" stroke="#000" stroke-width="3" />
<line x1="805.8" y1="1057" x2="805.8" y2="1112.5" stroke="#000" stroke-width="3" />
<line x1="840.2" y1="1064" x2="840.2" y2="1120.3" stroke="#000" stroke-width="3" />
<line x1="874.6" y1="1064" x2="874.6" y2="1120.3" stroke="#000" stroke-width="3" />
<line x1="909" y1="1064" x2="909" y2="1120.3" stroke="#000" stroke-width="3" />
<line x1="943.4" y1="1056" x2="943.4" y2="1132.3" stroke="#000" stroke-width="3" />
<line x1="977.8" y1="1056" x2="977.8" y2="1132.3" stroke="#000" stroke-width="3" />
<line x1="1012.2" y1="1065" x2="1012.2" y2="1132.3" stroke="#000" stroke-width="3" />
<line x1="1046.6" y1="1065" x2="1046.6" y2="1132.3" stroke="#000" stroke-width="3" />
<line x1="1081" y1="1065" x2="1081" y2="1132.3" stroke="#000" stroke-width="3" />
<line x1="1115.4" y1="1065" x2="1115.4" y2="1132.3" stroke="#000" stroke-width="3" />
<line x1="1149.8" y1="1076" x2="1149.8" y2="1132.3" stroke="#000" stroke-width="3" />
<line x1="1184.2" y1="1076" x2="1184.2" y2="1132.3" stroke="#000" stroke-width="3" />
<line x1="1218.6" y1="1076" x2="1218.6" y2="1132.3" stroke="#000" stroke-width="3" />
<line x1="1253" y1="1076" x2="1253" y2="1132.3" stroke="#000" stroke-width="3" />
<line x1="1287.4" y1="1076" x2="1287.4" y2="1132.3" stroke="#000" stroke-width="3" />
<line x1="1321.8" y1="1076" x2="1321.8" y2="1132.3" stroke="#000" stroke-width="3" />
<circle cx="152.2" cy="808" r="4.6" fill="none" stroke="#3d9e4a" stroke-width="2.2"/>
<circle cx="186.6" cy="911.9" r="4.6" fill="none" stroke="#e4e03a" stroke-width="2.2"/>
<circle cx="186.6" cy="914.5" r="4.6" fill="none" stroke="#3bb6e6" stroke-width="2.2"/>
<circle cx="186.6" cy="919.5" r="4.6" fill="none" stroke="#3d9e4a" stroke-width="2.2"/>
<rect x="185" y="913.7" width="3.2" height="3.2" fill="#000"/>
<circle cx="221" cy="937" r="4.6" fill="none" stroke="#e4e03a" stroke-width="2.2"/>
<circle cx="221" cy="944.2" r="4.6" fill="none" stroke="#3d9e4a" stroke-width="2.2"/>
<circle cx="221" cy="947" r="4.6" fill="none" stroke="#3bb6e6" stroke-width="2.2"/>
<rect x="219.4" y="941.13" width="3.2" height="3.2" fill="#000"/>
<circle cx="255.4" cy="954.8" r="4.6" fill="none" stroke="#3bb6e6" stroke-width="2.2"/>
<circle cx="255.4" cy="962.2" r="4.6" fill="none" stroke="#e4e03a" stroke-width="2.2"/>
<circle cx="255.4" cy="969.9" r="4.6" fill="none" stroke="#3d9e4a" stroke-width="2.2"/>
<rect x="253.8" y="960.7" width="3.2" height="3.2" fill="#000"/>
<circle cx="289.8" cy="962.2" r="4.6" fill="none" stroke="#e4e03a" stroke-width="2.2"/>
<circle cx="289.8" cy="969" r="4.6" fill="none" stroke="#3bb6e6" stroke-width="2.2"/>
<circle cx="289.8" cy="978.5" r="4.6" fill="none" stroke="#3d9e4a" stroke-width="2.2"/>
<rect x="288.2" y="968.3" width="3.2" height="3.2" fill="#000"/>
<circle cx="324.2" cy="969.9" r="4.6" fill="none" stroke="#e4e03a" stroke-width="2.2"/>
<circle cx="324.2" cy="981.3" r="4.6" fill="none" stroke="#3bb6e6" stroke-width="2.2"/>
<circle cx="324.2" cy="984.2" r="4.6" fill="none" stroke="#3d9e4a" stroke-width="2.2"/>
<rect x="322.6" y="976.87" width="3.2" height="3.2" fill="#000"/>
<circle cx="358.6" cy="982.2" r="4.6" fill="none" stroke="#e4e03a" stroke-width="2.2"/>
<circle cx="358.6" cy="991.9" r="4.6" fill="none" stroke="#3bb6e6" stroke-width="2.2"/>
<circle cx="358.6" cy="993.6" r="4.6" fill="none" stroke="#3d9e4a" stroke-width="2.2"/>
<rect x="357" y="987.63" width="3.2" height="3.2" fill="#000"/>
<circle cx="393" cy="988.5" r="4.6" fill="none" stroke="#3bb6e6" stroke-width="2.2"/>
<circle cx="393" cy="991.3" r="4.6" fill="none" stroke="#3d9e4a" stroke-width="2.2"/>
<circle cx="393" cy="997.6" r="4.6" fill="none" stroke="#e4e03a" stroke-width="2.2"/>
<rect x="391.4" y="990.87" width="3.2" height="3.2" fill="#000"/>
<circle cx="427.4" cy="1004.5" r="4.6" fill="none" stroke="#3d9e4a" stroke-width="2.2"/>
<circle cx="427.4" cy="1014.4" r="4.6" fill="none" stroke="#e4e03a" stroke-width="2.2"/>
<rect x="425.8" y="1007.85" width="3.2" height="3.2" fill="#000"/>
<circle cx="461.8" cy="1008.8" r="4.6" fill="none" stroke="#e4e03a" stroke-width="2.2"/>
<circle cx="461.8" cy="1018" r="4.6" fill="none" stroke="#3bb6e6" stroke-width="2.2"/>
<circle cx="461.8" cy="1032.8" r="4.6" fill="none" stroke="#3d9e4a" stroke-width="2.2"/>
<rect x="460.2" y="1018.27" width="3.2" height="3.2" fill="#000"/>
<circle cx="496.2" cy="1029.4" r="4.6" fill="none" stroke="#3bb6e6" stroke-width="2.2"/>
<circle cx="496.2" cy="1032.3" r="4.6" fill="none" stroke="#3d9e4a" stroke-width="2.2"/>
<rect x="494.6" y="1029.25" width="3.2" height="3.2" fill="#000"/>
<circle cx="530.6" cy="1018.9" r="4.6" fill="none" stroke="#e4e03a" stroke-width="2.2"/>
<circle cx="530.6" cy="1031.9" r="4.6" fill="none" stroke="#3d9e4a" stroke-width="2.2"/>
<circle cx="530.6" cy="1076" r="4.6" fill="none" stroke="#3bb6e6" stroke-width="2.2"/>
<rect x="529" y="1017.4" width="3.2" height="3.2" fill="#000"/>
<circle cx="565" cy="1032.8" r="4.6" fill="none" stroke="#3d9e4a" stroke-width="2.2"/>
<circle cx="565" cy="1045.6" r="4.6" fill="none" stroke="#e4e03a" stroke-width="2.2"/>
<circle cx="565" cy="1057" r="4.6" fill="none" stroke="#3bb6e6" stroke-width="2.2"/>
<rect x="563.4" y="1043.53" width="3.2" height="3.2" fill="#000"/>
<circle cx="599.4" cy="1036.6" r="4.6" fill="none" stroke="#3bb6e6" stroke-width="2.2"/>
<circle cx="599.4" cy="1064.6" r="4.6" fill="none" stroke="#e4e03a" stroke-width="2.2"/>
<rect x="597.8" y="1035.4" width="3.2" height="3.2" fill="#000"/>
<circle cx="633.8" cy="1044.6" r="4.6" fill="none" stroke="#3d9e4a" stroke-width="2.2"/>
<circle cx="633.8" cy="1056.4" r="4.6" fill="none" stroke="#3bb6e6" stroke-width="2.2"/>
<rect x="632.2" y="1043.4" width="3.2" height="3.2" fill="#000"/>
<circle cx="668.2" cy="1055.1" r="4.6" fill="none" stroke="#3bb6e6" stroke-width="2.2"/>
<circle cx="668.2" cy="1064.6" r="4.6" fill="none" stroke="#3d9e4a" stroke-width="2.2"/>
<rect x="666.6" y="1058.25" width="3.2" height="3.2" fill="#000"/>
<circle cx="702.6" cy="1044.6" r="4.6" fill="none" stroke="#3d9e4a" stroke-width="2.2"/>
<circle cx="702.6" cy="1076" r="4.6" fill="none" stroke="#3bb6e6" stroke-width="2.2"/>
<rect x="701" y="1043.4" width="3.2" height="3.2" fill="#000"/>
<circle cx="737" cy="1044.6" r="4.6" fill="none" stroke="#e4e03a" stroke-width="2.2"/>
<circle cx="737" cy="1076" r="4.6" fill="none" stroke="#3bb6e6" stroke-width="2.2"/>
<rect x="735.4" y="1043.4" width="3.2" height="3.2" fill="#000"/>
<circle cx="771.4" cy="1044.6" r="4.6" fill="none" stroke="#3bb6e6" stroke-width="2.2"/>
<rect x="769.8" y="1043.4" width="3.2" height="3.2" fill="#000"/>
<circle cx="805.8" cy="1064.8" r="4.6" fill="none" stroke="#3d9e4a" stroke-width="2.2"/>
<rect x="804.2" y="1055.4" width="3.2" height="3.2" fill="#000"/>
<circle cx="840.2" cy="1064.8" r="4.6" fill="none" stroke="#3d9e4a" stroke-width="2.2"/>
<circle cx="840.2" cy="1075.9" r="4.6" fill="none" stroke="#3bb6e6" stroke-width="2.2"/>
<rect x="838.6" y="1062.4" width="3.2" height="3.2" fill="#000"/>
<circle cx="874.6" cy="1064.8" r="4.6" fill="none" stroke="#e4e03a" stroke-width="2.2"/>
<circle cx="874.6" cy="1075.9" r="4.6" fill="none" stroke="#3bb6e6" stroke-width="2.2"/>
<rect x="873" y="1062.4" width="3.2" height="3.2" fill="#000"/>
<circle cx="909" cy="1064.8" r="4.6" fill="none" stroke="#e4e03a" stroke-width="2.2"/>
<circle cx="909" cy="1075.9" r="4.6" fill="none" stroke="#3bb6e6" stroke-width="2.2"/>
<rect x="907.4" y="1062.4" width="3.2" height="3.2" fill="#000"/>
<circle cx="943.4" cy="1055.9" r="4.6" fill="none" stroke="#3bb6e6" stroke-width="2.2"/>
<rect x="941.8" y="1054.4" width="3.2" height="3.2" fill="#000"/>
<circle cx="977.8" cy="1055.9" r="4.6" fill="none" stroke="#3bb6e6" stroke-width="2.2"/>
<rect x="976.2" y="1054.4" width="3.2" height="3.2" fill="#000"/>
<circle cx="1012.2" cy="1064.8" r="4.6" fill="none" stroke="#3d9e4a" stroke-width="2.2"/>
<rect x="1010.6" y="1063.4" width="3.2" height="3.2" fill="#000"/>
<circle cx="1046.6" cy="1064.8" r="4.6" fill="none" stroke="#3d9e4a" stroke-width="2.2"/>
<rect x="1045" y="1063.4" width="3.2" height="3.2" fill="#000"/>
<circle cx="1081" cy="1064.8" r="4.6" fill="none" stroke="#3d9e4a" stroke-width="2.2"/>
<rect x="1079.4" y="1063.4" width="3.2" height="3.2" fill="#000"/>
<circle cx="1115.4" cy="1064.8" r="4.6" fill="none" stroke="#3d9e4a" stroke-width="2.2"/>
<rect x="1113.8" y="1063.4" width="3.2" height="3.2" fill="#000"/>
<circle cx="1149.8" cy="1075.9" r="4.6" fill="none" stroke="#3bb6e6" stroke-width="2.2"/>
<rect x="1148.2" y="1074.4" width="3.2" height="3.2" fill="#000"/>
<circle cx="1184.2" cy="1075.9" r="4.6" fill="none" stroke="#3bb6e6" stroke-width="2.2"/>
<rect x="1182.6" y="1074.4" width="3.2" height="3.2" fill="#000"/>
<circle cx="1218.6" cy="1075.9" r="4.6" fill="none" stroke="#3bb6e6" stroke-width="2.2"/>
<rect x="1217" y="1074.4" width="3.2" height="3.2" fill="#000"/>
<circle cx="1253" cy="1075.9" r="4.6" fill="none" stroke="#3bb6e6" stroke-width="2.2"/>
<rect x="1251.4" y="1074.4" width="3.2" height="3.2" fill="#000"/>
<circle cx="1287.4" cy="1075.9" r="4.6" fill="none" stroke="#3bb6e6" stroke-width="2.2"/>
<rect x="1285.8" y="1074.4" width="3.2" height="3.2" fill="#000"/>
<circle cx="1321.8" cy="1075.9" r="4.6" fill="none" stroke="#3bb6e6" stroke-width="2.2"/>
<rect x="1320.2" y="1074.4" width="3.2" height="3.2" fill="#000"/>
<rect x="115.8" y="790.6" width="1237.3" height="341.7" fill="none" stroke="#231f20" stroke-width="1.8"/>
<line x1="109.5" y1="805.5" x2="115.8" y2="805.5" stroke="#231f20" stroke-width="1.6" />
<line x1="112.2" y1="851.21" x2="115.8" y2="851.21" stroke="#231f20" stroke-width="1.3" />
<line x1="112.2" y1="839.7" x2="115.8" y2="839.7" stroke="#231f20" stroke-width="1.3" />
<line x1="112.2" y1="831.53" x2="115.8" y2="831.53" stroke="#231f20" stroke-width="1.3" />
<line x1="112.2" y1="825.19" x2="115.8" y2="825.19" stroke="#231f20" stroke-width="1.3" />
<line x1="112.2" y1="820.01" x2="115.8" y2="820.01" stroke="#231f20" stroke-width="1.3" />
<line x1="112.2" y1="815.63" x2="115.8" y2="815.63" stroke="#231f20" stroke-width="1.3" />
<line x1="112.2" y1="811.84" x2="115.8" y2="811.84" stroke="#231f20" stroke-width="1.3" />
<line x1="112.2" y1="808.49" x2="115.8" y2="808.49" stroke="#231f20" stroke-width="1.3" />
<line x1="109.5" y1="870.9" x2="115.8" y2="870.9" stroke="#231f20" stroke-width="1.6" />
<line x1="112.2" y1="916.61" x2="115.8" y2="916.61" stroke="#231f20" stroke-width="1.3" />
<line x1="112.2" y1="905.1" x2="115.8" y2="905.1" stroke="#231f20" stroke-width="1.3" />
<line x1="112.2" y1="896.93" x2="115.8" y2="896.93" stroke="#231f20" stroke-width="1.3" />
<line x1="112.2" y1="890.59" x2="115.8" y2="890.59" stroke="#231f20" stroke-width="1.3" />
<line x1="112.2" y1="885.41" x2="115.8" y2="885.41" stroke="#231f20" stroke-width="1.3" />
<line x1="112.2" y1="881.03" x2="115.8" y2="881.03" stroke="#231f20" stroke-width="1.3" />
<line x1="112.2" y1="877.24" x2="115.8" y2="877.24" stroke="#231f20" stroke-width="1.3" />
<line x1="112.2" y1="873.89" x2="115.8" y2="873.89" stroke="#231f20" stroke-width="1.3" />
<line x1="109.5" y1="936.3" x2="115.8" y2="936.3" stroke="#231f20" stroke-width="1.6" />
<line x1="112.2" y1="982.01" x2="115.8" y2="982.01" stroke="#231f20" stroke-width="1.3" />
<line x1="112.2" y1="970.5" x2="115.8" y2="970.5" stroke="#231f20" stroke-width="1.3" />
<line x1="112.2" y1="962.33" x2="115.8" y2="962.33" stroke="#231f20" stroke-width="1.3" />
<line x1="112.2" y1="955.99" x2="115.8" y2="955.99" stroke="#231f20" stroke-width="1.3" />
<line x1="112.2" y1="950.81" x2="115.8" y2="950.81" stroke="#231f20" stroke-width="1.3" />
<line x1="112.2" y1="946.43" x2="115.8" y2="946.43" stroke="#231f20" stroke-width="1.3" />
<line x1="112.2" y1="942.64" x2="115.8" y2="942.64" stroke="#231f20" stroke-width="1.3" />
<line x1="112.2" y1="939.29" x2="115.8" y2="939.29" stroke="#231f20" stroke-width="1.3" />
<line x1="109.5" y1="1001.7" x2="115.8" y2="1001.7" stroke="#231f20" stroke-width="1.6" />
<line x1="112.2" y1="1047.41" x2="115.8" y2="1047.41" stroke="#231f20" stroke-width="1.3" />
<line x1="112.2" y1="1035.9" x2="115.8" y2="1035.9" stroke="#231f20" stroke-width="1.3" />
<line x1="112.2" y1="1027.73" x2="115.8" y2="1027.73" stroke="#231f20" stroke-width="1.3" />
<line x1="112.2" y1="1021.39" x2="115.8" y2="1021.39" stroke="#231f20" stroke-width="1.3" />
<line x1="112.2" y1="1016.21" x2="115.8" y2="1016.21" stroke="#231f20" stroke-width="1.3" />
<line x1="112.2" y1="1011.83" x2="115.8" y2="1011.83" stroke="#231f20" stroke-width="1.3" />
<line x1="112.2" y1="1008.04" x2="115.8" y2="1008.04" stroke="#231f20" stroke-width="1.3" />
<line x1="112.2" y1="1004.69" x2="115.8" y2="1004.69" stroke="#231f20" stroke-width="1.3" />
<line x1="109.5" y1="1067.1" x2="115.8" y2="1067.1" stroke="#231f20" stroke-width="1.6" />
<line x1="112.2" y1="1112.81" x2="115.8" y2="1112.81" stroke="#231f20" stroke-width="1.3" />
<line x1="112.2" y1="1101.3" x2="115.8" y2="1101.3" stroke="#231f20" stroke-width="1.3" />
<line x1="112.2" y1="1093.13" x2="115.8" y2="1093.13" stroke="#231f20" stroke-width="1.3" />
<line x1="112.2" y1="1086.79" x2="115.8" y2="1086.79" stroke="#231f20" stroke-width="1.3" />
<line x1="112.2" y1="1081.61" x2="115.8" y2="1081.61" stroke="#231f20" stroke-width="1.3" />
<line x1="112.2" y1="1077.23" x2="115.8" y2="1077.23" stroke="#231f20" stroke-width="1.3" />
<line x1="112.2" y1="1073.44" x2="115.8" y2="1073.44" stroke="#231f20" stroke-width="1.3" />
<line x1="112.2" y1="1070.09" x2="115.8" y2="1070.09" stroke="#231f20" stroke-width="1.3" />
<line x1="109.5" y1="1132.5" x2="115.8" y2="1132.5" stroke="#231f20" stroke-width="1.6" />
<text x="72.6" y="811.4" font-size="17.7" stroke-width="0.39" text-anchor="middle">1</text>
<text x="85.1" y="811.4" font-size="17.7" stroke-width="0.39" text-anchor="middle">0</text>
<text x="96.5" y="804.3" font-size="12.7" stroke-width="0.28" text-anchor="middle">0</text>
<text x="60.7" y="878.4" font-size="17.7" stroke-width="0.39" text-anchor="middle">1</text>
<text x="73.6" y="878.4" font-size="17.7" stroke-width="0.39" text-anchor="middle">0</text>
<text x="85.3" y="871.4" font-size="12.7" stroke-width="0.28" text-anchor="middle">−</text>
<text x="96.4" y="871.1" font-size="12.7" stroke-width="0.28" text-anchor="middle">1</text>
<text x="60.7" y="943.8" font-size="17.7" stroke-width="0.39" text-anchor="middle">1</text>
<text x="73.6" y="943.8" font-size="17.7" stroke-width="0.39" text-anchor="middle">0</text>
<text x="85.3" y="936.8" font-size="12.7" stroke-width="0.28" text-anchor="middle">−</text>
<text x="96.4" y="936.5" font-size="12.7" stroke-width="0.28" text-anchor="middle">2</text>
<text x="60.7" y="1009.2" font-size="17.7" stroke-width="0.39" text-anchor="middle">1</text>
<text x="73.6" y="1009.2" font-size="17.7" stroke-width="0.39" text-anchor="middle">0</text>
<text x="85.3" y="1002.2" font-size="12.7" stroke-width="0.28" text-anchor="middle">−</text>
<text x="96.4" y="1001.9" font-size="12.7" stroke-width="0.28" text-anchor="middle">3</text>
<text x="60.7" y="1074.6" font-size="17.7" stroke-width="0.39" text-anchor="middle">1</text>
<text x="73.6" y="1074.6" font-size="17.7" stroke-width="0.39" text-anchor="middle">0</text>
<text x="85.3" y="1067.6" font-size="12.7" stroke-width="0.28" text-anchor="middle">−</text>
<text x="96.4" y="1067.3" font-size="12.7" stroke-width="0.28" text-anchor="middle">4</text>
<text x="60.7" y="1140" font-size="17.7" stroke-width="0.39" text-anchor="middle">1</text>
<text x="73.6" y="1140" font-size="17.7" stroke-width="0.39" text-anchor="middle">0</text>
<text x="85.3" y="1133" font-size="12.7" stroke-width="0.28" text-anchor="middle">−</text>
<text x="96.4" y="1132.7" font-size="12.7" stroke-width="0.28" text-anchor="middle">5</text>
<line x1="152.2" y1="1132.3" x2="152.2" y2="1139.3" stroke="#231f20" stroke-width="1.6" />
<text transform="translate(158,1218) rotate(-90)" stroke-width="0.4" x="0 10.85 21.7 32.55 43.4 54.25 65.1" y="0" font-size="18.2" text-anchor="middle">A--E---</text>
<line x1="186.6" y1="1132.3" x2="186.6" y2="1139.3" stroke="#231f20" stroke-width="1.6" />
<text transform="translate(192.4,1218) rotate(-90)" stroke-width="0.4" x="0 10.85 21.7 32.55 43.4 54.25 65.1" y="0" font-size="18.2" text-anchor="middle">A------</text>
<line x1="221" y1="1132.3" x2="221" y2="1139.3" stroke="#231f20" stroke-width="1.6" />
<text transform="translate(226.8,1218) rotate(-90)" stroke-width="0.4" x="0 10.85 21.7 32.55 43.4 54.25 65.1" y="0" font-size="18.2" text-anchor="middle">---E---</text>
<line x1="255.4" y1="1132.3" x2="255.4" y2="1139.3" stroke="#231f20" stroke-width="1.6" />
<text transform="translate(261.2,1218) rotate(-90)" stroke-width="0.4" x="0 10.85 21.7 32.55 43.4 54.25 65.1" y="0" font-size="18.2" text-anchor="middle">AB-E---</text>
<line x1="289.8" y1="1132.3" x2="289.8" y2="1139.3" stroke="#231f20" stroke-width="1.6" />
<text transform="translate(295.6,1218) rotate(-90)" stroke-width="0.4" x="0 10.85 21.7 32.55 43.4 54.25 65.1" y="0" font-size="18.2" text-anchor="middle">-------</text>
<line x1="324.2" y1="1132.3" x2="324.2" y2="1139.3" stroke="#231f20" stroke-width="1.6" />
<text transform="translate(330,1218) rotate(-90)" stroke-width="0.4" x="0 10.85 21.7 32.55 43.4 54.25 65.1" y="0" font-size="18.2" text-anchor="middle">A--E--H</text>
<line x1="358.6" y1="1132.3" x2="358.6" y2="1139.3" stroke="#231f20" stroke-width="1.6" />
<text transform="translate(364.4,1218) rotate(-90)" stroke-width="0.4" x="0 10.85 21.7 32.55 43.4 54.25 65.1" y="0" font-size="18.2" text-anchor="middle">A--E-G-</text>
<line x1="393" y1="1132.3" x2="393" y2="1139.3" stroke="#231f20" stroke-width="1.6" />
<text transform="translate(398.8,1218) rotate(-90)" stroke-width="0.4" x="0 10.85 21.7 32.55 43.4 54.25 65.1" y="0" font-size="18.2" text-anchor="middle">A-DE---</text>
<line x1="427.4" y1="1132.3" x2="427.4" y2="1139.3" stroke="#231f20" stroke-width="1.6" />
<text transform="translate(433.2,1218) rotate(-90)" stroke-width="0.4" x="0 10.85 21.7 32.55 43.4 54.25 65.1" y="0" font-size="18.2" text-anchor="middle">A--EF--</text>
<line x1="461.8" y1="1132.3" x2="461.8" y2="1139.3" stroke="#231f20" stroke-width="1.6" />
<text transform="translate(467.6,1218) rotate(-90)" stroke-width="0.4" x="0 10.85 21.7 32.55 43.4 54.25 65.1" y="0" font-size="18.2" text-anchor="middle">AB-----</text>
<line x1="496.2" y1="1132.3" x2="496.2" y2="1139.3" stroke="#231f20" stroke-width="1.6" />
<text transform="translate(502,1218) rotate(-90)" stroke-width="0.4" x="0 10.85 21.7 32.55 43.4 54.25 65.1" y="0" font-size="18.2" text-anchor="middle">A--D---</text>
<line x1="530.6" y1="1132.3" x2="530.6" y2="1139.3" stroke="#231f20" stroke-width="1.6" />
<text transform="translate(536.4,1218) rotate(-90)" stroke-width="0.4" x="0 10.85 21.7 32.55 43.4 54.25 65.1" y="0" font-size="18.2" text-anchor="middle">-BD----</text>
<line x1="565" y1="1132.3" x2="565" y2="1139.3" stroke="#231f20" stroke-width="1.6" />
<text transform="translate(570.8,1218) rotate(-90)" stroke-width="0.4" x="0 10.85 21.7 32.55 43.4 54.25 65.1" y="0" font-size="18.2" text-anchor="middle">-B-E---</text>
<line x1="599.4" y1="1132.3" x2="599.4" y2="1139.3" stroke="#231f20" stroke-width="1.6" />
<text transform="translate(605.2,1218) rotate(-90)" stroke-width="0.4" x="0 10.85 21.7 32.55 43.4 54.25 65.1" y="0" font-size="18.2" text-anchor="middle">A-----H</text>
<line x1="633.8" y1="1132.3" x2="633.8" y2="1139.3" stroke="#231f20" stroke-width="1.6" />
<text transform="translate(639.6,1218) rotate(-90)" stroke-width="0.4" x="0 10.85 21.7 32.55 43.4 54.25 65.1" y="0" font-size="18.2" text-anchor="middle">ABDE---</text>
<line x1="668.2" y1="1132.3" x2="668.2" y2="1139.3" stroke="#231f20" stroke-width="1.6" />
<text transform="translate(674,1218) rotate(-90)" stroke-width="0.4" x="0 10.85 21.7 32.55 43.4 54.25 65.1" y="0" font-size="18.2" text-anchor="middle">AB-E-G-</text>
<line x1="702.6" y1="1132.3" x2="702.6" y2="1139.3" stroke="#231f20" stroke-width="1.6" />
<text transform="translate(708.4,1218) rotate(-90)" stroke-width="0.4" x="0 10.85 21.7 32.55 43.4 54.25 65.1" y="0" font-size="18.2" text-anchor="middle">---E--H</text>
<line x1="737" y1="1132.3" x2="737" y2="1139.3" stroke="#231f20" stroke-width="1.6" />
<text transform="translate(742.8,1218) rotate(-90)" stroke-width="0.4" x="0 10.85 21.7 32.55 43.4 54.25 65.1" y="0" font-size="18.2" text-anchor="middle">ABD----</text>
<line x1="771.4" y1="1132.3" x2="771.4" y2="1139.3" stroke="#231f20" stroke-width="1.6" />
<text transform="translate(777.2,1218) rotate(-90)" stroke-width="0.4" x="0 10.85 21.7 32.55 43.4 54.25 65.1" y="0" font-size="18.2" text-anchor="middle">-B-----</text>
<line x1="805.8" y1="1132.3" x2="805.8" y2="1139.3" stroke="#231f20" stroke-width="1.6" />
<text transform="translate(811.6,1218) rotate(-90)" stroke-width="0.4" x="0 10.85 21.7 32.55 43.4 54.25 65.1" y="0" font-size="18.2" text-anchor="middle">A-DE--H</text>
<line x1="840.2" y1="1132.3" x2="840.2" y2="1139.3" stroke="#231f20" stroke-width="1.6" />
<text transform="translate(846,1218) rotate(-90)" stroke-width="0.4" x="0 10.85 21.7 32.55 43.4 54.25 65.1" y="0" font-size="18.2" text-anchor="middle">---E-G-</text>
<line x1="874.6" y1="1132.3" x2="874.6" y2="1139.3" stroke="#231f20" stroke-width="1.6" />
<text transform="translate(880.4,1218) rotate(-90)" stroke-width="0.4" x="0 10.85 21.7 32.55 43.4 54.25 65.1" y="0" font-size="18.2" text-anchor="middle">AB-E--H</text>
<line x1="909" y1="1132.3" x2="909" y2="1139.3" stroke="#231f20" stroke-width="1.6" />
<text transform="translate(914.8,1218) rotate(-90)" stroke-width="0.4" x="0 10.85 21.7 32.55 43.4 54.25 65.1" y="0" font-size="18.2" text-anchor="middle">--DE-G-</text>
<line x1="943.4" y1="1132.3" x2="943.4" y2="1139.3" stroke="#231f20" stroke-width="1.6" />
<text transform="translate(949.2,1218) rotate(-90)" stroke-width="0.4" x="0 10.85 21.7 32.55 43.4 54.25 65.1" y="0" font-size="18.2" text-anchor="middle">-B-E-G-</text>
<line x1="977.8" y1="1132.3" x2="977.8" y2="1139.3" stroke="#231f20" stroke-width="1.6" />
<text transform="translate(983.6,1218) rotate(-90)" stroke-width="0.4" x="0 10.85 21.7 32.55 43.4 54.25 65.1" y="0" font-size="18.2" text-anchor="middle">A----G-</text>
<line x1="1012.2" y1="1132.3" x2="1012.2" y2="1139.3" stroke="#231f20" stroke-width="1.6" />
<text transform="translate(1018,1218) rotate(-90)" stroke-width="0.4" x="0 10.85 21.7 32.55 43.4 54.25 65.1" y="0" font-size="18.2" text-anchor="middle">----F--</text>
<line x1="1046.6" y1="1132.3" x2="1046.6" y2="1139.3" stroke="#231f20" stroke-width="1.6" />
<text transform="translate(1052.4,1218) rotate(-90)" stroke-width="0.4" x="0 10.85 21.7 32.55 43.4 54.25 65.1" y="0" font-size="18.2" text-anchor="middle">-B-E--H</text>
<line x1="1081" y1="1132.3" x2="1081" y2="1139.3" stroke="#231f20" stroke-width="1.6" />
<text transform="translate(1086.8,1218) rotate(-90)" stroke-width="0.4" x="0 10.85 21.7 32.55 43.4 54.25 65.1" y="0" font-size="18.2" text-anchor="middle">A---F--</text>
<line x1="1115.4" y1="1132.3" x2="1115.4" y2="1139.3" stroke="#231f20" stroke-width="1.6" />
<text transform="translate(1121.2,1218) rotate(-90)" stroke-width="0.4" x="0 10.85 21.7 32.55 43.4 54.25 65.1" y="0" font-size="18.2" text-anchor="middle">--DE---</text>
<line x1="1149.8" y1="1132.3" x2="1149.8" y2="1139.3" stroke="#231f20" stroke-width="1.6" />
<text transform="translate(1155.6,1218) rotate(-90)" stroke-width="0.4" x="0 10.85 21.7 32.55 43.4 54.25 65.1" y="0" font-size="18.2" text-anchor="middle">---EF--</text>
<line x1="1184.2" y1="1132.3" x2="1184.2" y2="1139.3" stroke="#231f20" stroke-width="1.6" />
<text transform="translate(1190,1218) rotate(-90)" stroke-width="0.4" x="0 10.85 21.7 32.55 43.4 54.25 65.1" y="0" font-size="18.2" text-anchor="middle">--D----</text>
<line x1="1218.6" y1="1132.3" x2="1218.6" y2="1139.3" stroke="#231f20" stroke-width="1.6" />
<text transform="translate(1224.4,1218) rotate(-90)" stroke-width="0.4" x="0 10.85 21.7 32.55 43.4 54.25 65.1" y="0" font-size="18.2" text-anchor="middle">-----G-</text>
<line x1="1253" y1="1132.3" x2="1253" y2="1139.3" stroke="#231f20" stroke-width="1.6" />
<text transform="translate(1258.8,1218) rotate(-90)" stroke-width="0.4" x="0 10.85 21.7 32.55 43.4 54.25 65.1" y="0" font-size="18.2" text-anchor="middle">AB--F--</text>
<line x1="1287.4" y1="1132.3" x2="1287.4" y2="1139.3" stroke="#231f20" stroke-width="1.6" />
<text transform="translate(1293.2,1218) rotate(-90)" stroke-width="0.4" x="0 10.85 21.7 32.55 43.4 54.25 65.1" y="0" font-size="18.2" text-anchor="middle">A-DE-G-</text>
<line x1="1321.8" y1="1132.3" x2="1321.8" y2="1139.3" stroke="#231f20" stroke-width="1.6" />
<text transform="translate(1327.6,1218) rotate(-90)" stroke-width="0.4" x="0 10.85 21.7 32.55 43.4 54.25 65.1" y="0" font-size="18.2" text-anchor="middle">-B---GH</text>
<text x="451.26" y="1254.6" font-size="27.18" stroke-width="0.6" textLength="489.37" lengthAdjust="spacingAndGlyphs">Promoter Combination Subpopulations</text>
<text transform="translate(37.9,1107.17) rotate(-90)" stroke-width="0.64" font-size="29.07" textLength="269.31" lengthAdjust="spacingAndGlyphs">Relative Abundance</text>
<text x="1090.59" y="840.8" font-size="24.71" stroke-width="0.54" textLength="195.91" lengthAdjust="spacingAndGlyphs">~5000 cells, n = 3</text>
<text x="953.1" y="1002.9" font-size="27.03" stroke-width="0.59" textLength="319.31" lengthAdjust="spacingAndGlyphs">Stochastic limit of detection</text>
<text x="1408.68" y="777.2" font-size="32.43" stroke-width="0.71" textLength="26.19" lengthAdjust="spacingAndGlyphs">d.</text>
<text x="1568.68" y="782.8" font-size="26.16" stroke-width="0.58" textLength="102.51" lengthAdjust="spacingAndGlyphs">Wildtype</text>
<g stroke="#808080" stroke-width="3.8" stroke-linecap="round">
<line x1="1572.8" y1="823.5" x2="1671.5" y2="821.9"/>
<line x1="1572.8" y1="823.5" x2="1514" y2="898.3"/>
<line x1="1572.8" y1="823.5" x2="1567.3" y2="959.1"/>
<line x1="1671.5" y1="821.9" x2="1691.5" y2="868.5"/>
<line x1="1671.5" y1="821.9" x2="1621.6" y2="885.5"/>
<line x1="1671.5" y1="821.9" x2="1766.5" y2="890.3"/>
<line x1="1671.5" y1="821.9" x2="1661.5" y2="932.6"/>
<line x1="1691.5" y1="868.5" x2="1583.8" y2="923.6"/>
<line x1="1691.5" y1="868.5" x2="1670" y2="1002"/>
<line x1="1540.6" y1="900.1" x2="1456.8" y2="920.9"/>
<line x1="1540.6" y1="900.1" x2="1661.5" y2="932.6"/>
<line x1="1540.6" y1="900.1" x2="1501.4" y2="1010.1"/>
<line x1="1621.6" y1="885.5" x2="1514" y2="898.3"/>
<line x1="1621.6" y1="885.5" x2="1583.8" y2="923.6"/>
<line x1="1621.6" y1="885.5" x2="1714.2" y2="951.4"/>
<line x1="1621.6" y1="885.5" x2="1614" y2="1006.6"/>
<line x1="1766.5" y1="890.3" x2="1714.2" y2="951.4"/>
<line x1="1766.5" y1="890.3" x2="1738.6" y2="1013.2"/>
<line x1="1514" y1="898.3" x2="1529.3" y2="1040.6"/>
<line x1="1456.8" y1="920.9" x2="1567.3" y2="959.1"/>
<line x1="1456.8" y1="920.9" x2="1427.9" y2="1013.4"/>
<line x1="1583.8" y1="923.6" x2="1576.1" y2="1067.3"/>
<line x1="1661.5" y1="932.6" x2="1567.3" y2="959.1"/>
<line x1="1661.5" y1="932.6" x2="1783.1" y2="948.8"/>
<line x1="1661.5" y1="932.6" x2="1670" y2="1002"/>
<line x1="1661.5" y1="932.6" x2="1614" y2="1006.6"/>
<line x1="1661.5" y1="932.6" x2="1738.6" y2="1013.2"/>
<line x1="1567.3" y1="959.1" x2="1529.3" y2="1040.6"/>
<line x1="1567.3" y1="959.1" x2="1644.5" y2="1069.8"/>
<line x1="1783.1" y1="948.8" x2="1738.6" y2="1043"/>
<line x1="1783.1" y1="948.8" x2="1831.8" y2="1039.7"/>
<line x1="1714.2" y1="951.4" x2="1679.3" y2="1082.8"/>
<line x1="1670" y1="1002" x2="1576.1" y2="1067.3"/>
<line x1="1670" y1="1002" x2="1733.6" y2="1109.5"/>
<line x1="1501.4" y1="1010.1" x2="1614" y2="1006.6"/>
<line x1="1501.4" y1="1010.1" x2="1427.9" y2="1013.4"/>
<line x1="1501.4" y1="1010.1" x2="1460.2" y2="1088.1"/>
<line x1="1501.4" y1="1010.1" x2="1556" y2="1115.9"/>
<line x1="1614" y1="1006.6" x2="1738.6" y2="1043"/>
<line x1="1614" y1="1006.6" x2="1529.3" y2="1040.6"/>
<line x1="1614" y1="1006.6" x2="1576.1" y2="1067.3"/>
<line x1="1614" y1="1006.6" x2="1679.3" y2="1082.8"/>
<line x1="1738.6" y1="1013.2" x2="1644.5" y2="1069.8"/>
<line x1="1738.6" y1="1013.2" x2="1679.3" y2="1082.8"/>
<line x1="1738.6" y1="1013.2" x2="1733.6" y2="1109.5"/>
<line x1="1738.6" y1="1013.2" x2="1831.8" y2="1039.7"/>
<line x1="1427.9" y1="1013.4" x2="1529.3" y2="1040.6"/>
<line x1="1738.6" y1="1043" x2="1780.1" y2="1128.2"/>
<line x1="1529.3" y1="1040.6" x2="1512.6" y2="1143.8"/>
<line x1="1529.3" y1="1040.6" x2="1610.2" y2="1144.7"/>
<line x1="1576.1" y1="1067.3" x2="1460.2" y2="1088.1"/>
<line x1="1576.1" y1="1067.3" x2="1512.6" y2="1143.8"/>
<line x1="1576.1" y1="1067.3" x2="1649" y2="1160"/>
<line x1="1644.5" y1="1069.8" x2="1610.2" y2="1144.7"/>
<line x1="1644.5" y1="1069.8" x2="1674" y2="1196.5"/>
<line x1="1679.3" y1="1082.8" x2="1556" y2="1115.9"/>
<line x1="1679.3" y1="1082.8" x2="1610.2" y2="1144.7"/>
<line x1="1679.3" y1="1082.8" x2="1649" y2="1160"/>
<line x1="1679.3" y1="1082.8" x2="1780.1" y2="1128.2"/>
<line x1="1733.6" y1="1109.5" x2="1649" y2="1160"/>
<line x1="1733.6" y1="1109.5" x2="1674" y2="1196.5"/>
<line x1="1831.8" y1="1039.7" x2="1780.1" y2="1128.2"/>
<line x1="1512.6" y1="1143.8" x2="1585" y2="1225.1"/>
<line x1="1610.2" y1="1144.7" x2="1585" y2="1225.1"/>
<line x1="1610.2" y1="1144.7" x2="1722.1" y2="1212.9"/>
<line x1="1649" y1="1160" x2="1585" y2="1225.1"/>
<line x1="1780.1" y1="1128.2" x2="1722.1" y2="1212.9"/>
<line x1="1674" y1="1196.5" x2="1585" y2="1225.1"/>
</g>
<circle cx="1614" cy="1006.6" r="52.6" fill="#00ace4" fill-opacity="0.85"/>
<circle cx="1679.3" cy="1082.8" r="8" fill="#25b4e7"/>
<circle cx="1661.5" cy="932.6" r="5.2" fill="#25b4e7"/>
<circle cx="1529.3" cy="1040.6" r="3.6" fill="#25b4e7"/>
<circle cx="1621.6" cy="885.5" r="3.2" fill="#25b4e7"/>
<circle cx="1576.1" cy="1067.3" r="3" fill="#25b4e7"/>
<circle cx="1501.4" cy="1010.1" r="3" fill="#25b4e7"/>
<circle cx="1738.6" cy="1013.2" r="2.6" fill="#25b4e7"/>
<circle cx="1738.6" cy="1043" r="2.4" fill="#25b4e7"/>
<text x="1524.11" y="820.5" font-size="16.57" stroke-width="0.36" textLength="53.79" lengthAdjust="spacingAndGlyphs">-B-E-G-</text>
<text x="1657.29" y="819.7" font-size="16.57" stroke-width="0.36" textLength="49.82" lengthAdjust="spacingAndGlyphs">---E-G-</text>
<text x="1450.76" y="848.5" font-size="16.57" stroke-width="0.36" textLength="57.99" lengthAdjust="spacingAndGlyphs">-B---GH</text>
<text x="1696.08" y="870.6" font-size="16.57" stroke-width="0.36" textLength="56.33" lengthAdjust="spacingAndGlyphs">--DE-G-</text>
<text x="1523.98" y="886.8" font-size="16.57" stroke-width="0.36" textLength="49.65" lengthAdjust="spacingAndGlyphs">---E--H</text>
<text x="1602.47" y="880.5" font-size="16.57" stroke-width="0.36" textLength="54.03" lengthAdjust="spacingAndGlyphs">A--E-G-</text>
<text x="1769.66" y="891.2" font-size="16.57" stroke-width="0.36" textLength="46.08" lengthAdjust="spacingAndGlyphs">-----G-</text>
<text x="1440.97" y="899.6" font-size="16.57" stroke-width="0.36" textLength="59.23" lengthAdjust="spacingAndGlyphs">AB-E-G-</text>
<text x="1390.09" y="923.5" font-size="16.57" stroke-width="0.36" textLength="54.42" lengthAdjust="spacingAndGlyphs">-B-E--H</text>
<text x="1558.37" y="935.7" font-size="16.57" stroke-width="0.36" textLength="60.33" lengthAdjust="spacingAndGlyphs">A-DE-G-</text>
<text x="1643.99" y="921.7" font-size="16.57" stroke-width="0.36" textLength="42.62" lengthAdjust="spacingAndGlyphs">---E---</text>
<text x="1554.5" y="957.2" font-size="16.57" stroke-width="0.36" textLength="47.1" lengthAdjust="spacingAndGlyphs">-B-E---</text>
<text x="1769.3" y="947" font-size="16.57" stroke-width="0.36" textLength="46.4" lengthAdjust="spacingAndGlyphs">---EF--</text>
<text x="1697.57" y="960.1" font-size="16.57" stroke-width="0.36" textLength="51.37" lengthAdjust="spacingAndGlyphs">A----G-</text>
<text x="1657.68" y="1001.2" font-size="16.57" stroke-width="0.36" textLength="49.54" lengthAdjust="spacingAndGlyphs">--DE---</text>
<text x="1441.27" y="1005.6" font-size="16.57" stroke-width="0.36" textLength="54.13" lengthAdjust="spacingAndGlyphs">A--E--H</text>
<text x="1590.57" y="1012.3" font-size="16.57" stroke-width="0.36" textLength="48.65" lengthAdjust="spacingAndGlyphs">A--E---</text>
<text x="1728.05" y="1010.7" font-size="16.57" stroke-width="0.36" textLength="39.4" lengthAdjust="spacingAndGlyphs">-------</text>
<text x="1367.47" y="1030.8" font-size="16.57" stroke-width="0.36" textLength="59.13" lengthAdjust="spacingAndGlyphs">AB-E--H</text>
<text x="1745.97" y="1044.6" font-size="16.57" stroke-width="0.36" textLength="50.82" lengthAdjust="spacingAndGlyphs">A--EF--</text>
<text x="1486.47" y="1058" font-size="16.57" stroke-width="0.36" textLength="51.31" lengthAdjust="spacingAndGlyphs">AB-E---</text>
<text x="1558.27" y="1060.7" font-size="16.57" stroke-width="0.36" textLength="53.03" lengthAdjust="spacingAndGlyphs">A-DE---</text>
<text x="1589.87" y="1076.3" font-size="16.57" stroke-width="0.36" textLength="43.76" lengthAdjust="spacingAndGlyphs">-B-----</text>
<text x="1657.47" y="1074" font-size="16.57" stroke-width="0.36" textLength="44.68" lengthAdjust="spacingAndGlyphs">A------</text>
<text x="1427.87" y="1105.2" font-size="16.57" stroke-width="0.36" textLength="61.05" lengthAdjust="spacingAndGlyphs">A-DE--H</text>
<text x="1690.65" y="1113.3" font-size="16.57" stroke-width="0.36" textLength="46.11" lengthAdjust="spacingAndGlyphs">--D----</text>
<text x="1537.07" y="1125.9" font-size="16.57" stroke-width="0.36" textLength="51.51" lengthAdjust="spacingAndGlyphs">A-----H</text>
<text x="1835.45" y="1044.6" font-size="16.57" stroke-width="0.36" textLength="43.9" lengthAdjust="spacingAndGlyphs">----F--</text>
<text x="1443.47" y="1153.4" font-size="16.57" stroke-width="0.36" textLength="57.52" lengthAdjust="spacingAndGlyphs">ABDE---</text>
<text x="1564.47" y="1150.5" font-size="16.57" stroke-width="0.36" textLength="47.94" lengthAdjust="spacingAndGlyphs">AB-----</text>
<text x="1634.47" y="1156" font-size="16.57" stroke-width="0.36" textLength="50.97" lengthAdjust="spacingAndGlyphs">A-D----</text>
<text x="1786.77" y="1136.5" font-size="16.57" stroke-width="0.36" textLength="47.55" lengthAdjust="spacingAndGlyphs">A---F--</text>
<text x="1634.97" y="1197.3" font-size="16.57" stroke-width="0.36" textLength="50.47" lengthAdjust="spacingAndGlyphs">-BD----</text>
<text x="1567.17" y="1240.7" font-size="16.57" stroke-width="0.36" textLength="55.36" lengthAdjust="spacingAndGlyphs">ABD----</text>
<text x="1701.97" y="1226.3" font-size="16.57" stroke-width="0.36" textLength="52.04" lengthAdjust="spacingAndGlyphs">AB--F--</text>
<text x="1914.79" y="777.2" font-size="29.55" stroke-width="0.65" textLength="23.82" lengthAdjust="spacingAndGlyphs">e.</text>
<text x="1952.16" y="837.8" font-size="23.98" stroke-width="0.53" textLength="158.74" lengthAdjust="spacingAndGlyphs">Δrecombinase</text>
<circle cx="2033.2" cy="940.2" r="87.3" fill="url(#gBall)"/>
<text x="1999.56" y="946.2" font-size="16.57" stroke-width="0.36" textLength="62.44" lengthAdjust="spacingAndGlyphs">A--E--H</text>
<rect x="1849.6" y="1149.8" width="299.4" height="104.7" fill="none" stroke="#231f20" stroke-width="1.6"/>
<circle cx="1870.8" cy="1185.8" r="4.6" fill="url(#gBall)"/>
<circle cx="1952.9" cy="1185.4" r="11.2" fill="url(#gBall)"/>
<circle cx="2058.3" cy="1185.4" r="21.9" fill="url(#gBall)"/>
<text x="1882.28" y="1194.3" font-size="18.86" stroke-width="0.41" textLength="35.89" lengthAdjust="spacingAndGlyphs">0.05</text>
<text x="1968.96" y="1194.3" font-size="18.86" stroke-width="0.41" textLength="47.13" lengthAdjust="spacingAndGlyphs">0.125</text>
<text x="2086.67" y="1194.3" font-size="18.86" stroke-width="0.41" textLength="36.31" lengthAdjust="spacingAndGlyphs">0.25</text>
<text x="1888.27" y="1232" font-size="25.26" stroke-width="0.56" textLength="205.78" lengthAdjust="spacingAndGlyphs">relative frequency</text>
</svg>
</body></html>
